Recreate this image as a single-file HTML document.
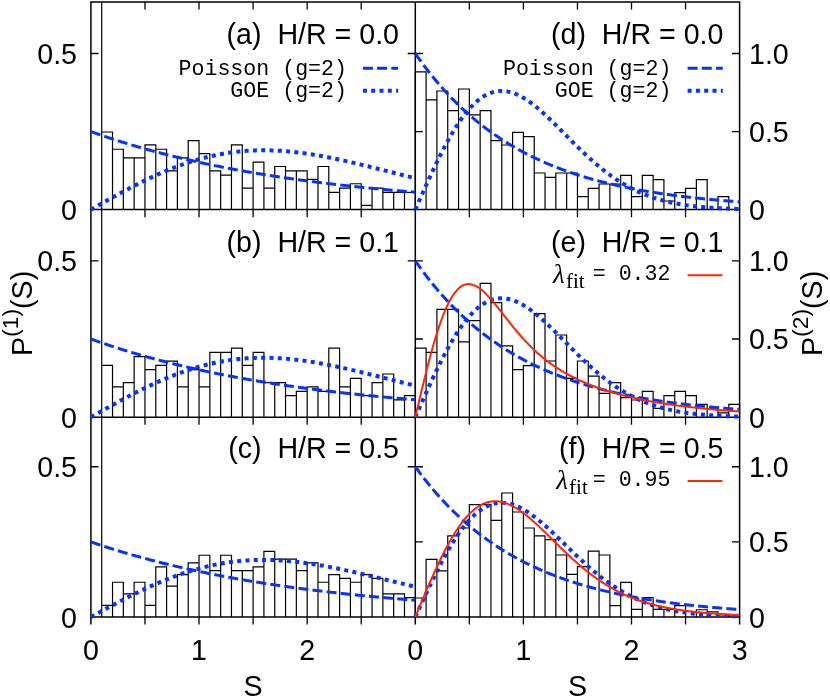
<!DOCTYPE html>
<html><head><meta charset="utf-8"><title>P(S)</title>
<style>html,body{margin:0;padding:0;background:#fff}svg{display:block;will-change:transform}</style></head>
<body>
<svg width="830" height="700" viewBox="0 0 830 700">
<rect width="830" height="700" fill="#fff"/>
<g stroke="#000" stroke-width="1.5" fill="none" stroke-linecap="butt">
<path d="M90.9 624.6 V1.9 H739.6 V624.6 M415.3 1.9 V624.6 M90.9 209.6 H739.6 M90.9 417.2 H739.6 M90.9 617.0 H739.6"/>
</g>
<g stroke="#000" stroke-width="1.3" fill="none">
<path d="M144.97 1.9 v7.6 M144.97 209.6 v7.6 M144.97 417.2 v7.6 M144.97 617.0 v7.6 M199.03 1.9 v7.6 M199.03 209.6 v7.6 M199.03 417.2 v7.6 M199.03 617.0 v7.6 M253.10 1.9 v7.6 M253.10 209.6 v7.6 M253.10 417.2 v7.6 M253.10 617.0 v7.6 M307.17 1.9 v7.6 M307.17 209.6 v7.6 M307.17 417.2 v7.6 M307.17 617.0 v7.6 M361.23 1.9 v7.6 M361.23 209.6 v7.6 M361.23 417.2 v7.6 M361.23 617.0 v7.6 M469.35 1.9 v7.6 M469.35 209.6 v7.6 M469.35 417.2 v7.6 M469.35 617.0 v7.6 M523.40 1.9 v7.6 M523.40 209.6 v7.6 M523.40 417.2 v7.6 M523.40 617.0 v7.6 M577.45 1.9 v7.6 M577.45 209.6 v7.6 M577.45 417.2 v7.6 M577.45 617.0 v7.6 M631.50 1.9 v7.6 M631.50 209.6 v7.6 M631.50 417.2 v7.6 M631.50 617.0 v7.6 M685.55 1.9 v7.6 M685.55 209.6 v7.6 M685.55 417.2 v7.6 M685.55 617.0 v7.6 M90.9 53.50 h7.6 M415.3 53.50 h-7.6 M415.3 53.50 h7.6 M415.3 131.55 h7.6 M739.6 53.50 h-7.6 M739.6 131.55 h-7.6 M90.9 260.80 h7.6 M415.3 260.80 h-7.6 M415.3 260.80 h7.6 M415.3 339.00 h7.6 M739.6 260.80 h-7.6 M739.6 339.00 h-7.6 M90.9 466.75 h7.6 M415.3 466.75 h-7.6 M415.3 466.75 h7.6 M415.3 541.88 h7.6 M739.6 466.75 h-7.6 M739.6 541.88 h-7.6"/>
</g>
<g stroke="#000" stroke-width="1.2" fill="none" stroke-linejoin="miter">
<path d="M101.71 209.6 V1.9 M101.71 209.6 v-77.58 h10.81 v77.58 M112.53 209.6 v-60.34 h10.81 v60.34 M123.34 209.6 v-51.72 h10.81 v51.72 M134.15 209.6 v-51.72 h10.81 v51.72 M144.97 209.6 v-64.65 h10.81 v64.65 M155.78 209.6 v-60.34 h10.81 v60.34 M166.59 209.6 v-38.79 h10.81 v38.79 M177.41 209.6 v-51.72 h10.81 v51.72 M188.22 209.6 v-68.96 h10.81 v68.96 M199.03 209.6 v-56.03 h10.81 v56.03 M209.85 209.6 v-38.79 h10.81 v38.79 M220.66 209.6 v-34.48 h10.81 v34.48 M231.47 209.6 v-64.65 h10.81 v64.65 M242.29 209.6 v-21.55 h10.81 v21.55 M253.10 209.6 v-47.41 h10.81 v47.41 M263.91 209.6 v-21.55 h10.81 v21.55 M274.73 209.6 v-43.10 h10.81 v43.10 M285.54 209.6 v-38.79 h10.81 v38.79 M296.35 209.6 v-38.79 h10.81 v38.79 M307.17 209.6 v-30.17 h10.81 v30.17 M317.98 209.6 v-43.10 h10.81 v43.10 M328.79 209.6 v-17.24 h10.81 v17.24 M339.61 209.6 v-21.55 h10.81 v21.55 M350.42 209.6 v-25.86 h10.81 v25.86 M361.23 209.6 v-4.31 h10.81 v4.31 M372.05 209.6 v-21.55 h10.81 v21.55 M382.86 209.6 v-17.24 h10.81 v17.24 M393.67 209.6 v-17.24 h10.81 v17.24 M404.49 209.6 v-17.24 h10.81 v17.24 M415.30 209.6 v-137.70 h10.81 v137.70 M426.11 209.6 v-109.80 h10.81 v109.80 M436.92 209.6 v-118.60 h10.81 v118.60 M447.73 209.6 v-99.00 h10.81 v99.00 M458.54 209.6 v-120.60 h10.81 v120.60 M469.35 209.6 v-94.80 h10.81 v94.80 M480.16 209.6 v-99.00 h10.81 v99.00 M490.97 209.6 v-69.00 h10.81 v69.00 M501.78 209.6 v-64.60 h10.81 v64.60 M512.59 209.6 v-77.20 h10.81 v77.20 M523.40 209.6 v-73.00 h10.81 v73.00 M534.21 209.6 v-36.60 h10.81 v36.60 M545.02 209.6 v-32.20 h10.81 v32.20 M555.83 209.6 v-36.60 h10.81 v36.60 M566.64 209.6 v-36.60 h10.81 v36.60 M577.45 209.6 v-13.00 h10.81 v13.00 M588.26 209.6 v-21.20 h10.81 v21.20 M599.07 209.6 v-25.60 h10.81 v25.60 M609.88 209.6 v-25.60 h10.81 v25.60 M620.69 209.6 v-34.20 h10.81 v34.20 M631.50 209.6 v-13.00 h10.81 v13.00 M642.31 209.6 v-34.20 h10.81 v34.20 M653.12 209.6 v-30.00 h10.81 v30.00 M663.93 209.6 v-8.60 h10.81 v8.60 M674.74 209.6 v-17.00 h10.81 v17.00 M685.55 209.6 v-21.20 h10.81 v21.20 M696.36 209.6 v-30.00 h10.81 v30.00 M717.98 209.6 v-13.00 h10.81 v13.00 M101.71 417.2 V209.6 M101.71 417.2 v-51.84 h10.81 v51.84 M112.53 417.2 v-30.24 h10.81 v30.24 M123.34 417.2 v-34.56 h10.81 v34.56 M134.15 417.2 v-60.48 h10.81 v60.48 M144.97 417.2 v-47.52 h10.81 v47.52 M155.78 417.2 v-51.84 h10.81 v51.84 M166.59 417.2 v-56.16 h10.81 v56.16 M177.41 417.2 v-30.24 h10.81 v30.24 M188.22 417.2 v-47.52 h10.81 v47.52 M199.03 417.2 v-30.24 h10.81 v30.24 M209.85 417.2 v-64.80 h10.81 v64.80 M220.66 417.2 v-64.80 h10.81 v64.80 M231.47 417.2 v-69.12 h10.81 v69.12 M242.29 417.2 v-51.84 h10.81 v51.84 M253.10 417.2 v-64.80 h10.81 v64.80 M263.91 417.2 v-34.56 h10.81 v34.56 M274.73 417.2 v-34.56 h10.81 v34.56 M285.54 417.2 v-21.60 h10.81 v21.60 M296.35 417.2 v-25.92 h10.81 v25.92 M307.17 417.2 v-30.24 h10.81 v30.24 M317.98 417.2 v-25.92 h10.81 v25.92 M328.79 417.2 v-69.12 h10.81 v69.12 M339.61 417.2 v-30.24 h10.81 v30.24 M350.42 417.2 v-38.88 h10.81 v38.88 M361.23 417.2 v-21.60 h10.81 v21.60 M372.05 417.2 v-34.56 h10.81 v34.56 M382.86 417.2 v-43.20 h10.81 v43.20 M393.67 417.2 v-17.28 h10.81 v17.28 M404.49 417.2 v-21.60 h10.81 v21.60 M415.30 417.2 v-69.00 h10.81 v69.00 M426.11 417.2 v-64.80 h10.81 v64.80 M436.92 417.2 v-107.80 h10.81 v107.80 M447.73 417.2 v-107.80 h10.81 v107.80 M458.54 417.2 v-75.40 h10.81 v75.40 M469.35 417.2 v-96.60 h10.81 v96.60 M480.16 417.2 v-133.80 h10.81 v133.80 M490.97 417.2 v-114.60 h10.81 v114.60 M501.78 417.2 v-71.40 h10.81 v71.40 M512.59 417.2 v-47.60 h10.81 v47.60 M523.40 417.2 v-51.60 h10.81 v51.60 M534.21 417.2 v-103.60 h10.81 v103.60 M545.02 417.2 v-56.20 h10.81 v56.20 M555.83 417.2 v-82.20 h10.81 v82.20 M566.64 417.2 v-38.80 h10.81 v38.80 M577.45 417.2 v-56.20 h10.81 v56.20 M588.26 417.2 v-41.00 h10.81 v41.00 M599.07 417.2 v-23.80 h10.81 v23.80 M609.88 417.2 v-34.60 h10.81 v34.60 M620.69 417.2 v-19.60 h10.81 v19.60 M631.50 417.2 v-17.20 h10.81 v17.20 M642.31 417.2 v-25.80 h10.81 v25.80 M653.12 417.2 v-8.80 h10.81 v8.80 M663.93 417.2 v-21.60 h10.81 v21.60 M674.74 417.2 v-25.80 h10.81 v25.80 M685.55 417.2 v-21.60 h10.81 v21.60 M696.36 417.2 v-12.80 h10.81 v12.80 M707.17 417.2 v-8.60 h10.81 v8.60 M717.98 417.2 v-4.30 h10.81 v4.30 M728.79 417.2 v-12.80 h10.81 v12.80 M101.71 617.0 V417.2 M101.71 617.0 v-11.58 h10.81 v11.58 M112.53 617.0 v-34.74 h10.81 v34.74 M123.34 617.0 v-23.16 h10.81 v23.16 M134.15 617.0 v-34.74 h10.81 v34.74 M144.97 617.0 v-11.58 h10.81 v11.58 M155.78 617.0 v-50.18 h10.81 v50.18 M166.59 617.0 v-30.88 h10.81 v30.88 M177.41 617.0 v-42.46 h10.81 v42.46 M188.22 617.0 v-54.04 h10.81 v54.04 M199.03 617.0 v-61.76 h10.81 v61.76 M209.85 617.0 v-46.32 h10.81 v46.32 M220.66 617.0 v-61.76 h10.81 v61.76 M231.47 617.0 v-46.32 h10.81 v46.32 M242.29 617.0 v-46.32 h10.81 v46.32 M253.10 617.0 v-50.18 h10.81 v50.18 M263.91 617.0 v-65.62 h10.81 v65.62 M274.73 617.0 v-57.90 h10.81 v57.90 M285.54 617.0 v-57.90 h10.81 v57.90 M296.35 617.0 v-46.32 h10.81 v46.32 M307.17 617.0 v-54.04 h10.81 v54.04 M317.98 617.0 v-34.74 h10.81 v34.74 M328.79 617.0 v-42.46 h10.81 v42.46 M339.61 617.0 v-38.60 h10.81 v38.60 M350.42 617.0 v-34.74 h10.81 v34.74 M361.23 617.0 v-42.46 h10.81 v42.46 M372.05 617.0 v-38.60 h10.81 v38.60 M382.86 617.0 v-23.16 h10.81 v23.16 M393.67 617.0 v-23.16 h10.81 v23.16 M404.49 617.0 v-19.30 h10.81 v19.30 M415.30 617.0 v-19.00 h10.81 v19.00 M426.11 617.0 v-57.60 h10.81 v57.60 M436.92 617.0 v-46.20 h10.81 v46.20 M447.73 617.0 v-81.20 h10.81 v81.20 M458.54 617.0 v-89.00 h10.81 v89.00 M469.35 617.0 v-112.40 h10.81 v112.40 M480.16 617.0 v-112.40 h10.81 v112.40 M490.97 617.0 v-96.60 h10.81 v96.60 M501.78 617.0 v-124.00 h10.81 v124.00 M512.59 617.0 v-105.00 h10.81 v105.00 M523.40 617.0 v-89.00 h10.81 v89.00 M534.21 617.0 v-81.20 h10.81 v81.20 M545.02 617.0 v-77.40 h10.81 v77.40 M555.83 617.0 v-62.00 h10.81 v62.00 M566.64 617.0 v-42.60 h10.81 v42.60 M577.45 617.0 v-50.40 h10.81 v50.40 M588.26 617.0 v-65.80 h10.81 v65.80 M599.07 617.0 v-62.00 h10.81 v62.00 M609.88 617.0 v-11.40 h10.81 v11.40 M620.69 617.0 v-34.60 h10.81 v34.60 M631.50 617.0 v-7.60 h10.81 v7.60 M642.31 617.0 v-19.40 h10.81 v19.40 M653.12 617.0 v-7.60 h10.81 v7.60 M663.93 617.0 v-7.60 h10.81 v7.60 M674.74 617.0 v-11.40 h10.81 v11.40 M696.36 617.0 v-7.25 h10.81 v7.25 M707.17 617.0 v-5.20 h10.81 v5.20 M717.98 617.0 v-2.00 h10.81 v2.00 M728.79 617.0 v-2.00 h10.81 v2.00"/>
</g>
<path d="M90.90 131.55 L91.98 131.94 L93.06 132.33 L94.14 132.71 L95.23 133.10 L96.31 133.48 L97.39 133.86 L98.47 134.23 L99.55 134.61 L100.63 134.98 L101.71 135.36 L102.79 135.73 L103.88 136.10 L104.96 136.46 L106.04 136.83 L107.12 137.19 L108.20 137.55 L109.28 137.91 L110.36 138.27 L111.45 138.62 L112.53 138.98 L113.61 139.33 L114.69 139.68 L115.77 140.03 L116.85 140.38 L117.93 140.72 L119.01 141.06 L120.10 141.41 L121.18 141.75 L122.26 142.09 L123.34 142.42 L124.42 142.76 L125.50 143.09 L126.58 143.42 L127.67 143.75 L128.75 144.08 L129.83 144.41 L130.91 144.73 L131.99 145.06 L133.07 145.38 L134.15 145.70 L135.23 146.02 L136.32 146.33 L137.40 146.65 L138.48 146.96 L139.56 147.28 L140.64 147.59 L141.72 147.90 L142.80 148.20 L143.89 148.51 L144.97 148.81 L146.05 149.12 L147.13 149.42 L148.21 149.72 L149.29 150.02 L150.37 150.32 L151.45 150.61 L152.54 150.91 L153.62 151.20 L154.70 151.49 L155.78 151.78 L156.86 152.07 L157.94 152.35 L159.02 152.64 L160.11 152.92 L161.19 153.21 L162.27 153.49 L163.35 153.77 L164.43 154.05 L165.51 154.32 L166.59 154.60 L167.67 154.87 L168.76 155.15 L169.84 155.42 L170.92 155.69 L172.00 155.96 L173.08 156.22 L174.16 156.49 L175.24 156.76 L176.33 157.02 L177.41 157.28 L178.49 157.54 L179.57 157.80 L180.65 158.06 L181.73 158.32 L182.81 158.57 L183.89 158.83 L184.98 159.08 L186.06 159.33 L187.14 159.58 L188.22 159.83 L189.30 160.08 L190.38 160.33 L191.46 160.57 L192.55 160.82 L193.63 161.06 L194.71 161.30 L195.79 161.54 L196.87 161.78 L197.95 162.02 L199.03 162.26 L200.11 162.50 L201.20 162.73 L202.28 162.97 L203.36 163.20 L204.44 163.43 L205.52 163.66 L206.60 163.89 L207.68 164.12 L208.77 164.34 L209.85 164.57 L210.93 164.79 L212.01 165.02 L213.09 165.24 L214.17 165.46 L215.25 165.68 L216.33 165.90 L217.42 166.12 L218.50 166.33 L219.58 166.55 L220.66 166.77 L221.74 166.98 L222.82 167.19 L223.90 167.40 L224.99 167.61 L226.07 167.82 L227.15 168.03 L228.23 168.24 L229.31 168.44 L230.39 168.65 L231.47 168.85 L232.55 169.06 L233.64 169.26 L234.72 169.46 L235.80 169.66 L236.88 169.86 L237.96 170.06 L239.04 170.26 L240.12 170.45 L241.21 170.65 L242.29 170.84 L243.37 171.03 L244.45 171.23 L245.53 171.42 L246.61 171.61 L247.69 171.80 L248.77 171.99 L249.86 172.17 L250.94 172.36 L252.02 172.55 L253.10 172.73 L254.18 172.92 L255.26 173.10 L256.34 173.28 L257.43 173.46 L258.51 173.64 L259.59 173.82 L260.67 174.00 L261.75 174.18 L262.83 174.35 L263.91 174.53 L264.99 174.70 L266.08 174.88 L267.16 175.05 L268.24 175.22 L269.32 175.40 L270.40 175.57 L271.48 175.74 L272.56 175.90 L273.65 176.07 L274.73 176.24 L275.81 176.41 L276.89 176.57 L277.97 176.74 L279.05 176.90 L280.13 177.06 L281.21 177.23 L282.30 177.39 L283.38 177.55 L284.46 177.71 L285.54 177.87 L286.62 178.03 L287.70 178.18 L288.78 178.34 L289.87 178.50 L290.95 178.65 L292.03 178.81 L293.11 178.96 L294.19 179.11 L295.27 179.26 L296.35 179.41 L297.43 179.57 L298.52 179.72 L299.60 179.86 L300.68 180.01 L301.76 180.16 L302.84 180.31 L303.92 180.45 L305.00 180.60 L306.09 180.74 L307.17 180.89 L308.25 181.03 L309.33 181.17 L310.41 181.31 L311.49 181.46 L312.57 181.60 L313.65 181.74 L314.74 181.87 L315.82 182.01 L316.90 182.15 L317.98 182.29 L319.06 182.42 L320.14 182.56 L321.22 182.69 L322.31 182.83 L323.39 182.96 L324.47 183.09 L325.55 183.23 L326.63 183.36 L327.71 183.49 L328.79 183.62 L329.87 183.75 L330.96 183.88 L332.04 184.01 L333.12 184.13 L334.20 184.26 L335.28 184.39 L336.36 184.51 L337.44 184.64 L338.53 184.76 L339.61 184.89 L340.69 185.01 L341.77 185.13 L342.85 185.25 L343.93 185.38 L345.01 185.50 L346.09 185.62 L347.18 185.74 L348.26 185.86 L349.34 185.97 L350.42 186.09 L351.50 186.21 L352.58 186.33 L353.66 186.44 L354.75 186.56 L355.83 186.67 L356.91 186.79 L357.99 186.90 L359.07 187.01 L360.15 187.13 L361.23 187.24 L362.31 187.35 L363.40 187.46 L364.48 187.57 L365.56 187.68 L366.64 187.79 L367.72 187.90 L368.80 188.01 L369.88 188.12 L370.97 188.22 L372.05 188.33 L373.13 188.43 L374.21 188.54 L375.29 188.65 L376.37 188.75 L377.45 188.85 L378.53 188.96 L379.62 189.06 L380.70 189.16 L381.78 189.26 L382.86 189.37 L383.94 189.47 L385.02 189.57 L386.10 189.67 L387.19 189.77 L388.27 189.87 L389.35 189.96 L390.43 190.06 L391.51 190.16 L392.59 190.26 L393.67 190.35 L394.75 190.45 L395.84 190.54 L396.92 190.64 L398.00 190.73 L399.08 190.83 L400.16 190.92 L401.24 191.02 L402.32 191.11 L403.41 191.20 L404.49 191.29 L405.57 191.38 L406.65 191.47 L407.73 191.56 L408.81 191.65 L409.89 191.74 L410.97 191.83 L412.06 191.92 L413.14 192.01 L414.22 192.10 L415.30 192.18" fill="none" stroke="#0433ff" stroke-width="3" stroke-dasharray="10 4.2"/>
<path d="M90.90 209.60 L91.98 208.99 L93.06 208.37 L94.14 207.76 L95.23 207.15 L96.31 206.54 L97.39 205.92 L98.47 205.31 L99.55 204.70 L100.63 204.09 L101.71 203.48 L102.79 202.87 L103.88 202.26 L104.96 201.66 L106.04 201.05 L107.12 200.45 L108.20 199.84 L109.28 199.24 L110.36 198.64 L111.45 198.04 L112.53 197.44 L113.61 196.84 L114.69 196.24 L115.77 195.65 L116.85 195.05 L117.93 194.46 L119.01 193.87 L120.10 193.28 L121.18 192.70 L122.26 192.11 L123.34 191.53 L124.42 190.95 L125.50 190.37 L126.58 189.80 L127.67 189.23 L128.75 188.65 L129.83 188.09 L130.91 187.52 L131.99 186.96 L133.07 186.40 L134.15 185.84 L135.23 185.28 L136.32 184.73 L137.40 184.18 L138.48 183.63 L139.56 183.09 L140.64 182.55 L141.72 182.01 L142.80 181.48 L143.89 180.95 L144.97 180.42 L146.05 179.89 L147.13 179.37 L148.21 178.85 L149.29 178.34 L150.37 177.83 L151.45 177.32 L152.54 176.82 L153.62 176.32 L154.70 175.82 L155.78 175.33 L156.86 174.84 L157.94 174.36 L159.02 173.88 L160.11 173.40 L161.19 172.93 L162.27 172.46 L163.35 171.99 L164.43 171.53 L165.51 171.08 L166.59 170.63 L167.67 170.18 L168.76 169.74 L169.84 169.30 L170.92 168.86 L172.00 168.43 L173.08 168.01 L174.16 167.59 L175.24 167.17 L176.33 166.76 L177.41 166.35 L178.49 165.95 L179.57 165.55 L180.65 165.16 L181.73 164.77 L182.81 164.39 L183.89 164.01 L184.98 163.63 L186.06 163.26 L187.14 162.90 L188.22 162.54 L189.30 162.19 L190.38 161.84 L191.46 161.49 L192.55 161.16 L193.63 160.82 L194.71 160.49 L195.79 160.17 L196.87 159.85 L197.95 159.54 L199.03 159.23 L200.11 158.92 L201.20 158.63 L202.28 158.33 L203.36 158.05 L204.44 157.76 L205.52 157.49 L206.60 157.21 L207.68 156.95 L208.77 156.69 L209.85 156.43 L210.93 156.18 L212.01 155.93 L213.09 155.69 L214.17 155.46 L215.25 155.23 L216.33 155.00 L217.42 154.78 L218.50 154.57 L219.58 154.36 L220.66 154.16 L221.74 153.96 L222.82 153.77 L223.90 153.58 L224.99 153.40 L226.07 153.22 L227.15 153.05 L228.23 152.88 L229.31 152.72 L230.39 152.56 L231.47 152.41 L232.55 152.27 L233.64 152.13 L234.72 151.99 L235.80 151.86 L236.88 151.74 L237.96 151.62 L239.04 151.51 L240.12 151.40 L241.21 151.29 L242.29 151.19 L243.37 151.10 L244.45 151.01 L245.53 150.93 L246.61 150.85 L247.69 150.78 L248.77 150.71 L249.86 150.65 L250.94 150.59 L252.02 150.53 L253.10 150.49 L254.18 150.44 L255.26 150.40 L256.34 150.37 L257.43 150.34 L258.51 150.32 L259.59 150.30 L260.67 150.28 L261.75 150.27 L262.83 150.27 L263.91 150.27 L264.99 150.27 L266.08 150.28 L267.16 150.30 L268.24 150.31 L269.32 150.34 L270.40 150.36 L271.48 150.39 L272.56 150.43 L273.65 150.47 L274.73 150.52 L275.81 150.56 L276.89 150.62 L277.97 150.68 L279.05 150.74 L280.13 150.80 L281.21 150.87 L282.30 150.95 L283.38 151.03 L284.46 151.11 L285.54 151.20 L286.62 151.29 L287.70 151.38 L288.78 151.48 L289.87 151.58 L290.95 151.69 L292.03 151.80 L293.11 151.91 L294.19 152.03 L295.27 152.15 L296.35 152.27 L297.43 152.40 L298.52 152.53 L299.60 152.66 L300.68 152.80 L301.76 152.94 L302.84 153.09 L303.92 153.24 L305.00 153.39 L306.09 153.54 L307.17 153.70 L308.25 153.86 L309.33 154.03 L310.41 154.19 L311.49 154.36 L312.57 154.54 L313.65 154.71 L314.74 154.89 L315.82 155.07 L316.90 155.26 L317.98 155.45 L319.06 155.64 L320.14 155.83 L321.22 156.02 L322.31 156.22 L323.39 156.42 L324.47 156.63 L325.55 156.83 L326.63 157.04 L327.71 157.25 L328.79 157.46 L329.87 157.68 L330.96 157.89 L332.04 158.11 L333.12 158.33 L334.20 158.56 L335.28 158.78 L336.36 159.01 L337.44 159.24 L338.53 159.47 L339.61 159.70 L340.69 159.94 L341.77 160.17 L342.85 160.41 L343.93 160.65 L345.01 160.89 L346.09 161.13 L347.18 161.38 L348.26 161.62 L349.34 161.87 L350.42 162.12 L351.50 162.37 L352.58 162.62 L353.66 162.88 L354.75 163.13 L355.83 163.39 L356.91 163.64 L357.99 163.90 L359.07 164.16 L360.15 164.42 L361.23 164.68 L362.31 164.94 L363.40 165.20 L364.48 165.47 L365.56 165.73 L366.64 166.00 L367.72 166.26 L368.80 166.53 L369.88 166.80 L370.97 167.07 L372.05 167.33 L373.13 167.60 L374.21 167.87 L375.29 168.14 L376.37 168.41 L377.45 168.69 L378.53 168.96 L379.62 169.23 L380.70 169.50 L381.78 169.77 L382.86 170.05 L383.94 170.32 L385.02 170.59 L386.10 170.87 L387.19 171.14 L388.27 171.41 L389.35 171.69 L390.43 171.96 L391.51 172.23 L392.59 172.51 L393.67 172.78 L394.75 173.05 L395.84 173.33 L396.92 173.60 L398.00 173.87 L399.08 174.15 L400.16 174.42 L401.24 174.69 L402.32 174.96 L403.41 175.23 L404.49 175.50 L405.57 175.77 L406.65 176.04 L407.73 176.31 L408.81 176.58 L409.89 176.85 L410.97 177.12 L412.06 177.39 L413.14 177.65 L414.22 177.92 L415.30 178.19" fill="none" stroke="#0433ff" stroke-width="4" stroke-dasharray="4 4.3"/>
<path d="M415.30 53.50 L416.38 55.05 L417.46 56.59 L418.54 58.11 L419.62 59.62 L420.71 61.11 L421.79 62.59 L422.87 64.05 L423.95 65.50 L425.03 66.94 L426.11 68.35 L427.19 69.76 L428.27 71.15 L429.35 72.53 L430.43 73.89 L431.51 75.24 L432.60 76.58 L433.68 77.90 L434.76 79.21 L435.84 80.51 L436.92 81.80 L438.00 83.07 L439.08 84.33 L440.16 85.57 L441.24 86.81 L442.32 88.03 L443.41 89.24 L444.49 90.44 L445.57 91.62 L446.65 92.80 L447.73 93.96 L448.81 95.11 L449.89 96.25 L450.97 97.38 L452.05 98.49 L453.13 99.60 L454.22 100.69 L455.30 101.78 L456.38 102.85 L457.46 103.91 L458.54 104.96 L459.62 106.00 L460.70 107.03 L461.78 108.06 L462.86 109.07 L463.94 110.07 L465.03 111.06 L466.11 112.04 L467.19 113.01 L468.27 113.97 L469.35 114.92 L470.43 115.86 L471.51 116.80 L472.59 117.72 L473.67 118.63 L474.75 119.54 L475.84 120.43 L476.92 121.32 L478.00 122.20 L479.08 123.07 L480.16 123.93 L481.24 124.78 L482.32 125.63 L483.40 126.46 L484.48 127.29 L485.57 128.11 L486.65 128.92 L487.73 129.72 L488.81 130.52 L489.89 131.30 L490.97 132.08 L492.05 132.85 L493.13 133.62 L494.21 134.37 L495.29 135.12 L496.38 135.86 L497.46 136.60 L498.54 137.32 L499.62 138.04 L500.70 138.75 L501.78 139.46 L502.86 140.16 L503.94 140.85 L505.02 141.53 L506.10 142.21 L507.19 142.88 L508.27 143.54 L509.35 144.20 L510.43 144.85 L511.51 145.50 L512.59 146.13 L513.67 146.77 L514.75 147.39 L515.83 148.01 L516.91 148.62 L518.00 149.23 L519.08 149.83 L520.16 150.43 L521.24 151.01 L522.32 151.60 L523.40 152.17 L524.48 152.75 L525.56 153.31 L526.64 153.87 L527.72 154.43 L528.81 154.97 L529.89 155.52 L530.97 156.06 L532.05 156.59 L533.13 157.12 L534.21 157.64 L535.29 158.16 L536.37 158.67 L537.45 159.17 L538.53 159.68 L539.62 160.17 L540.70 160.66 L541.78 161.15 L542.86 161.63 L543.94 162.11 L545.02 162.58 L546.10 163.05 L547.18 163.51 L548.26 163.97 L549.34 164.43 L550.42 164.88 L551.51 165.32 L552.59 165.76 L553.67 166.20 L554.75 166.63 L555.83 167.06 L556.91 167.48 L557.99 167.90 L559.07 168.32 L560.15 168.73 L561.24 169.13 L562.32 169.54 L563.40 169.93 L564.48 170.33 L565.56 170.72 L566.64 171.11 L567.72 171.49 L568.80 171.87 L569.88 172.24 L570.96 172.62 L572.05 172.98 L573.13 173.35 L574.21 173.71 L575.29 174.07 L576.37 174.42 L577.45 174.77 L578.53 175.12 L579.61 175.46 L580.69 175.80 L581.77 176.14 L582.86 176.47 L583.94 176.80 L585.02 177.12 L586.10 177.45 L587.18 177.77 L588.26 178.08 L589.34 178.40 L590.42 178.71 L591.50 179.02 L592.58 179.32 L593.67 179.62 L594.75 179.92 L595.83 180.21 L596.91 180.51 L597.99 180.80 L599.07 181.08 L600.15 181.37 L601.23 181.65 L602.31 181.93 L603.39 182.20 L604.48 182.47 L605.56 182.74 L606.64 183.01 L607.72 183.28 L608.80 183.54 L609.88 183.80 L610.96 184.05 L612.04 184.31 L613.12 184.56 L614.20 184.81 L615.29 185.06 L616.37 185.30 L617.45 185.54 L618.53 185.78 L619.61 186.02 L620.69 186.25 L621.77 186.48 L622.85 186.71 L623.93 186.94 L625.01 187.17 L626.10 187.39 L627.18 187.61 L628.26 187.83 L629.34 188.05 L630.42 188.26 L631.50 188.47 L632.58 188.68 L633.66 188.89 L634.74 189.10 L635.82 189.30 L636.90 189.50 L637.99 189.70 L639.07 189.90 L640.15 190.10 L641.23 190.29 L642.31 190.48 L643.39 190.67 L644.47 190.86 L645.55 191.05 L646.63 191.23 L647.72 191.42 L648.80 191.60 L649.88 191.78 L650.96 191.95 L652.04 192.13 L653.12 192.30 L654.20 192.48 L655.28 192.65 L656.36 192.81 L657.44 192.98 L658.53 193.15 L659.61 193.31 L660.69 193.47 L661.77 193.63 L662.85 193.79 L663.93 193.95 L665.01 194.11 L666.09 194.26 L667.17 194.41 L668.25 194.56 L669.34 194.71 L670.42 194.86 L671.50 195.01 L672.58 195.15 L673.66 195.30 L674.74 195.44 L675.82 195.58 L676.90 195.72 L677.98 195.86 L679.06 195.99 L680.14 196.13 L681.23 196.26 L682.31 196.40 L683.39 196.53 L684.47 196.66 L685.55 196.79 L686.63 196.91 L687.71 197.04 L688.79 197.17 L689.87 197.29 L690.96 197.41 L692.04 197.53 L693.12 197.65 L694.20 197.77 L695.28 197.89 L696.36 198.01 L697.44 198.12 L698.52 198.24 L699.60 198.35 L700.68 198.46 L701.77 198.57 L702.85 198.68 L703.93 198.79 L705.01 198.90 L706.09 199.00 L707.17 199.11 L708.25 199.21 L709.33 199.32 L710.41 199.42 L711.49 199.52 L712.58 199.62 L713.66 199.72 L714.74 199.82 L715.82 199.92 L716.90 200.01 L717.98 200.11 L719.06 200.20 L720.14 200.30 L721.22 200.39 L722.30 200.48 L723.38 200.57 L724.47 200.66 L725.55 200.75 L726.63 200.84 L727.71 200.92 L728.79 201.01 L729.87 201.10 L730.95 201.18 L732.03 201.26 L733.11 201.35 L734.20 201.43 L735.28 201.51 L736.36 201.59 L737.44 201.67 L738.52 201.75 L739.60 201.83" fill="none" stroke="#0433ff" stroke-width="3" stroke-dasharray="10 4.2"/>
<path d="M415.30 209.60 L416.38 207.15 L417.46 204.70 L418.54 202.25 L419.62 199.80 L420.71 197.36 L421.79 194.93 L422.87 192.50 L423.95 190.08 L425.03 187.67 L426.11 185.27 L427.19 182.88 L428.27 180.51 L429.35 178.14 L430.43 175.80 L431.51 173.46 L432.60 171.15 L433.68 168.85 L434.76 166.57 L435.84 164.31 L436.92 162.08 L438.00 159.86 L439.08 157.67 L440.16 155.50 L441.24 153.35 L442.32 151.24 L443.41 149.14 L444.49 147.08 L445.57 145.04 L446.65 143.04 L447.73 141.06 L448.81 139.11 L449.89 137.20 L450.97 135.32 L452.05 133.47 L453.13 131.65 L454.22 129.87 L455.30 128.12 L456.38 126.41 L457.46 124.74 L458.54 123.10 L459.62 121.50 L460.70 119.94 L461.78 118.42 L462.86 116.93 L463.94 115.48 L465.03 114.08 L466.11 112.71 L467.19 111.39 L468.27 110.10 L469.35 108.86 L470.43 107.65 L471.51 106.49 L472.59 105.37 L473.67 104.29 L474.75 103.26 L475.84 102.26 L476.92 101.31 L478.00 100.40 L479.08 99.54 L480.16 98.71 L481.24 97.93 L482.32 97.19 L483.40 96.49 L484.48 95.84 L485.57 95.23 L486.65 94.66 L487.73 94.13 L488.81 93.64 L489.89 93.19 L490.97 92.79 L492.05 92.42 L493.13 92.10 L494.21 91.82 L495.29 91.58 L496.38 91.37 L497.46 91.21 L498.54 91.08 L499.62 91.00 L500.70 90.95 L501.78 90.94 L502.86 90.96 L503.94 91.03 L505.02 91.13 L506.10 91.26 L507.19 91.43 L508.27 91.64 L509.35 91.88 L510.43 92.15 L511.51 92.45 L512.59 92.79 L513.67 93.16 L514.75 93.56 L515.83 93.99 L516.91 94.45 L518.00 94.94 L519.08 95.46 L520.16 96.01 L521.24 96.58 L522.32 97.18 L523.40 97.80 L524.48 98.45 L525.56 99.13 L526.64 99.83 L527.72 100.55 L528.81 101.29 L529.89 102.06 L530.97 102.85 L532.05 103.65 L533.13 104.48 L534.21 105.32 L535.29 106.18 L536.37 107.06 L537.45 107.96 L538.53 108.87 L539.62 109.80 L540.70 110.74 L541.78 111.70 L542.86 112.67 L543.94 113.65 L545.02 114.64 L546.10 115.65 L547.18 116.66 L548.26 117.68 L549.34 118.72 L550.42 119.76 L551.51 120.81 L552.59 121.86 L553.67 122.93 L554.75 124.00 L555.83 125.07 L556.91 126.15 L557.99 127.23 L559.07 128.31 L560.15 129.40 L561.24 130.49 L562.32 131.59 L563.40 132.68 L564.48 133.77 L565.56 134.87 L566.64 135.96 L567.72 137.05 L568.80 138.15 L569.88 139.24 L570.96 140.32 L572.05 141.41 L573.13 142.49 L574.21 143.57 L575.29 144.64 L576.37 145.71 L577.45 146.77 L578.53 147.83 L579.61 148.88 L580.69 149.93 L581.77 150.97 L582.86 152.01 L583.94 153.03 L585.02 154.05 L586.10 155.07 L587.18 156.07 L588.26 157.07 L589.34 158.05 L590.42 159.03 L591.50 160.00 L592.58 160.96 L593.67 161.92 L594.75 162.86 L595.83 163.79 L596.91 164.71 L597.99 165.62 L599.07 166.53 L600.15 167.42 L601.23 168.30 L602.31 169.17 L603.39 170.03 L604.48 170.88 L605.56 171.72 L606.64 172.54 L607.72 173.36 L608.80 174.16 L609.88 174.95 L610.96 175.74 L612.04 176.51 L613.12 177.26 L614.20 178.01 L615.29 178.75 L616.37 179.47 L617.45 180.18 L618.53 180.88 L619.61 181.57 L620.69 182.25 L621.77 182.92 L622.85 183.57 L623.93 184.22 L625.01 184.85 L626.10 185.47 L627.18 186.08 L628.26 186.68 L629.34 187.27 L630.42 187.84 L631.50 188.41 L632.58 188.96 L633.66 189.51 L634.74 190.04 L635.82 190.56 L636.90 191.07 L637.99 191.57 L639.07 192.06 L640.15 192.54 L641.23 193.01 L642.31 193.47 L643.39 193.92 L644.47 194.36 L645.55 194.80 L646.63 195.22 L647.72 195.63 L648.80 196.03 L649.88 196.42 L650.96 196.81 L652.04 197.18 L653.12 197.55 L654.20 197.91 L655.28 198.25 L656.36 198.59 L657.44 198.93 L658.53 199.25 L659.61 199.57 L660.69 199.87 L661.77 200.17 L662.85 200.47 L663.93 200.75 L665.01 201.03 L666.09 201.30 L667.17 201.56 L668.25 201.82 L669.34 202.07 L670.42 202.31 L671.50 202.55 L672.58 202.78 L673.66 203.00 L674.74 203.22 L675.82 203.43 L676.90 203.63 L677.98 203.83 L679.06 204.03 L680.14 204.21 L681.23 204.40 L682.31 204.57 L683.39 204.75 L684.47 204.91 L685.55 205.07 L686.63 205.23 L687.71 205.38 L688.79 205.53 L689.87 205.68 L690.96 205.81 L692.04 205.95 L693.12 206.08 L694.20 206.21 L695.28 206.33 L696.36 206.45 L697.44 206.56 L698.52 206.67 L699.60 206.78 L700.68 206.88 L701.77 206.99 L702.85 207.08 L703.93 207.18 L705.01 207.27 L706.09 207.36 L707.17 207.44 L708.25 207.52 L709.33 207.60 L710.41 207.68 L711.49 207.75 L712.58 207.82 L713.66 207.89 L714.74 207.96 L715.82 208.02 L716.90 208.09 L717.98 208.15 L719.06 208.20 L720.14 208.26 L721.22 208.31 L722.30 208.36 L723.38 208.41 L724.47 208.46 L725.55 208.51 L726.63 208.55 L727.71 208.60 L728.79 208.64 L729.87 208.68 L730.95 208.72 L732.03 208.75 L733.11 208.79 L734.20 208.82 L735.28 208.85 L736.36 208.89 L737.44 208.92 L738.52 208.95 L739.60 208.97" fill="none" stroke="#0433ff" stroke-width="4" stroke-dasharray="4 4.3"/>
<path d="M90.90 339.00 L91.98 339.39 L93.06 339.78 L94.14 340.16 L95.23 340.55 L96.31 340.93 L97.39 341.31 L98.47 341.69 L99.55 342.07 L100.63 342.44 L101.71 342.81 L102.79 343.18 L103.88 343.55 L104.96 343.92 L106.04 344.29 L107.12 344.65 L108.20 345.01 L109.28 345.37 L110.36 345.73 L111.45 346.09 L112.53 346.44 L113.61 346.79 L114.69 347.15 L115.77 347.50 L116.85 347.84 L117.93 348.19 L119.01 348.53 L120.10 348.88 L121.18 349.22 L122.26 349.56 L123.34 349.89 L124.42 350.23 L125.50 350.56 L126.58 350.89 L127.67 351.23 L128.75 351.55 L129.83 351.88 L130.91 352.21 L131.99 352.53 L133.07 352.85 L134.15 353.18 L135.23 353.49 L136.32 353.81 L137.40 354.13 L138.48 354.44 L139.56 354.76 L140.64 355.07 L141.72 355.38 L142.80 355.69 L143.89 355.99 L144.97 356.30 L146.05 356.60 L147.13 356.90 L148.21 357.20 L149.29 357.50 L150.37 357.80 L151.45 358.10 L152.54 358.39 L153.62 358.69 L154.70 358.98 L155.78 359.27 L156.86 359.56 L157.94 359.84 L159.02 360.13 L160.11 360.42 L161.19 360.70 L162.27 360.98 L163.35 361.26 L164.43 361.54 L165.51 361.82 L166.59 362.09 L167.67 362.37 L168.76 362.64 L169.84 362.91 L170.92 363.18 L172.00 363.45 L173.08 363.72 L174.16 363.99 L175.24 364.25 L176.33 364.52 L177.41 364.78 L178.49 365.04 L179.57 365.30 L180.65 365.56 L181.73 365.82 L182.81 366.08 L183.89 366.33 L184.98 366.58 L186.06 366.84 L187.14 367.09 L188.22 367.34 L189.30 367.59 L190.38 367.83 L191.46 368.08 L192.55 368.32 L193.63 368.57 L194.71 368.81 L195.79 369.05 L196.87 369.29 L197.95 369.53 L199.03 369.77 L200.11 370.01 L201.20 370.24 L202.28 370.48 L203.36 370.71 L204.44 370.94 L205.52 371.17 L206.60 371.40 L207.68 371.63 L208.77 371.86 L209.85 372.08 L210.93 372.31 L212.01 372.53 L213.09 372.75 L214.17 372.98 L215.25 373.20 L216.33 373.42 L217.42 373.63 L218.50 373.85 L219.58 374.07 L220.66 374.28 L221.74 374.50 L222.82 374.71 L223.90 374.92 L224.99 375.13 L226.07 375.34 L227.15 375.55 L228.23 375.76 L229.31 375.97 L230.39 376.17 L231.47 376.38 L232.55 376.58 L233.64 376.78 L234.72 376.98 L235.80 377.18 L236.88 377.38 L237.96 377.58 L239.04 377.78 L240.12 377.98 L241.21 378.17 L242.29 378.37 L243.37 378.56 L244.45 378.75 L245.53 378.95 L246.61 379.14 L247.69 379.33 L248.77 379.51 L249.86 379.70 L250.94 379.89 L252.02 380.08 L253.10 380.26 L254.18 380.45 L255.26 380.63 L256.34 380.81 L257.43 380.99 L258.51 381.17 L259.59 381.35 L260.67 381.53 L261.75 381.71 L262.83 381.89 L263.91 382.06 L264.99 382.24 L266.08 382.41 L267.16 382.59 L268.24 382.76 L269.32 382.93 L270.40 383.10 L271.48 383.27 L272.56 383.44 L273.65 383.61 L274.73 383.78 L275.81 383.94 L276.89 384.11 L277.97 384.27 L279.05 384.44 L280.13 384.60 L281.21 384.76 L282.30 384.93 L283.38 385.09 L284.46 385.25 L285.54 385.41 L286.62 385.56 L287.70 385.72 L288.78 385.88 L289.87 386.04 L290.95 386.19 L292.03 386.35 L293.11 386.50 L294.19 386.65 L295.27 386.81 L296.35 386.96 L297.43 387.11 L298.52 387.26 L299.60 387.41 L300.68 387.56 L301.76 387.70 L302.84 387.85 L303.92 388.00 L305.00 388.14 L306.09 388.29 L307.17 388.43 L308.25 388.58 L309.33 388.72 L310.41 388.86 L311.49 389.00 L312.57 389.14 L313.65 389.28 L314.74 389.42 L315.82 389.56 L316.90 389.70 L317.98 389.83 L319.06 389.97 L320.14 390.11 L321.22 390.24 L322.31 390.38 L323.39 390.51 L324.47 390.64 L325.55 390.78 L326.63 390.91 L327.71 391.04 L328.79 391.17 L329.87 391.30 L330.96 391.43 L332.04 391.56 L333.12 391.68 L334.20 391.81 L335.28 391.94 L336.36 392.06 L337.44 392.19 L338.53 392.31 L339.61 392.44 L340.69 392.56 L341.77 392.69 L342.85 392.81 L343.93 392.93 L345.01 393.05 L346.09 393.17 L347.18 393.29 L348.26 393.41 L349.34 393.53 L350.42 393.65 L351.50 393.76 L352.58 393.88 L353.66 394.00 L354.75 394.11 L355.83 394.23 L356.91 394.34 L357.99 394.46 L359.07 394.57 L360.15 394.68 L361.23 394.80 L362.31 394.91 L363.40 395.02 L364.48 395.13 L365.56 395.24 L366.64 395.35 L367.72 395.46 L368.80 395.57 L369.88 395.67 L370.97 395.78 L372.05 395.89 L373.13 395.99 L374.21 396.10 L375.29 396.21 L376.37 396.31 L377.45 396.41 L378.53 396.52 L379.62 396.62 L380.70 396.72 L381.78 396.83 L382.86 396.93 L383.94 397.03 L385.02 397.13 L386.10 397.23 L387.19 397.33 L388.27 397.43 L389.35 397.53 L390.43 397.62 L391.51 397.72 L392.59 397.82 L393.67 397.92 L394.75 398.01 L395.84 398.11 L396.92 398.20 L398.00 398.30 L399.08 398.39 L400.16 398.49 L401.24 398.58 L402.32 398.67 L403.41 398.76 L404.49 398.86 L405.57 398.95 L406.65 399.04 L407.73 399.13 L408.81 399.22 L409.89 399.31 L410.97 399.40 L412.06 399.49 L413.14 399.58 L414.22 399.66 L415.30 399.75" fill="none" stroke="#0433ff" stroke-width="3" stroke-dasharray="10 4.2"/>
<path d="M90.90 417.20 L91.98 416.59 L93.06 415.97 L94.14 415.36 L95.23 414.74 L96.31 414.13 L97.39 413.52 L98.47 412.90 L99.55 412.29 L100.63 411.68 L101.71 411.07 L102.79 410.46 L103.88 409.85 L104.96 409.24 L106.04 408.63 L107.12 408.03 L108.20 407.42 L109.28 406.82 L110.36 406.21 L111.45 405.61 L112.53 405.01 L113.61 404.41 L114.69 403.82 L115.77 403.22 L116.85 402.63 L117.93 402.03 L119.01 401.44 L120.10 400.85 L121.18 400.27 L122.26 399.68 L123.34 399.10 L124.42 398.52 L125.50 397.94 L126.58 397.36 L127.67 396.79 L128.75 396.21 L129.83 395.65 L130.91 395.08 L131.99 394.51 L133.07 393.95 L134.15 393.39 L135.23 392.84 L136.32 392.28 L137.40 391.73 L138.48 391.18 L139.56 390.64 L140.64 390.10 L141.72 389.56 L142.80 389.02 L143.89 388.49 L144.97 387.96 L146.05 387.44 L147.13 386.91 L148.21 386.40 L149.29 385.88 L150.37 385.37 L151.45 384.86 L152.54 384.36 L153.62 383.85 L154.70 383.36 L155.78 382.86 L156.86 382.37 L157.94 381.89 L159.02 381.41 L160.11 380.93 L161.19 380.46 L162.27 379.99 L163.35 379.52 L164.43 379.06 L165.51 378.60 L166.59 378.15 L167.67 377.70 L168.76 377.26 L169.84 376.82 L170.92 376.38 L172.00 375.95 L173.08 375.53 L174.16 375.11 L175.24 374.69 L176.33 374.28 L177.41 373.87 L178.49 373.46 L179.57 373.07 L180.65 372.67 L181.73 372.28 L182.81 371.90 L183.89 371.52 L184.98 371.15 L186.06 370.78 L187.14 370.41 L188.22 370.05 L189.30 369.70 L190.38 369.35 L191.46 369.00 L192.55 368.66 L193.63 368.33 L194.71 368.00 L195.79 367.67 L196.87 367.35 L197.95 367.04 L199.03 366.73 L200.11 366.43 L201.20 366.13 L202.28 365.84 L203.36 365.55 L204.44 365.26 L205.52 364.99 L206.60 364.71 L207.68 364.45 L208.77 364.18 L209.85 363.93 L210.93 363.68 L212.01 363.43 L213.09 363.19 L214.17 362.95 L215.25 362.72 L216.33 362.50 L217.42 362.28 L218.50 362.06 L219.58 361.85 L220.66 361.65 L221.74 361.45 L222.82 361.26 L223.90 361.07 L224.99 360.89 L226.07 360.71 L227.15 360.54 L228.23 360.37 L229.31 360.21 L230.39 360.05 L231.47 359.90 L232.55 359.76 L233.64 359.62 L234.72 359.48 L235.80 359.35 L236.88 359.23 L237.96 359.11 L239.04 358.99 L240.12 358.88 L241.21 358.78 L242.29 358.68 L243.37 358.59 L244.45 358.50 L245.53 358.42 L246.61 358.34 L247.69 358.26 L248.77 358.20 L249.86 358.13 L250.94 358.07 L252.02 358.02 L253.10 357.97 L254.18 357.93 L255.26 357.89 L256.34 357.86 L257.43 357.83 L258.51 357.80 L259.59 357.78 L260.67 357.77 L261.75 357.76 L262.83 357.76 L263.91 357.75 L264.99 357.76 L266.08 357.77 L267.16 357.78 L268.24 357.80 L269.32 357.82 L270.40 357.85 L271.48 357.88 L272.56 357.92 L273.65 357.96 L274.73 358.00 L275.81 358.05 L276.89 358.10 L277.97 358.16 L279.05 358.22 L280.13 358.29 L281.21 358.36 L282.30 358.44 L283.38 358.51 L284.46 358.60 L285.54 358.68 L286.62 358.77 L287.70 358.87 L288.78 358.97 L289.87 359.07 L290.95 359.17 L292.03 359.28 L293.11 359.40 L294.19 359.51 L295.27 359.64 L296.35 359.76 L297.43 359.89 L298.52 360.02 L299.60 360.15 L300.68 360.29 L301.76 360.44 L302.84 360.58 L303.92 360.73 L305.00 360.88 L306.09 361.04 L307.17 361.19 L308.25 361.36 L309.33 361.52 L310.41 361.69 L311.49 361.86 L312.57 362.03 L313.65 362.21 L314.74 362.39 L315.82 362.57 L316.90 362.75 L317.98 362.94 L319.06 363.13 L320.14 363.33 L321.22 363.52 L322.31 363.72 L323.39 363.92 L324.47 364.12 L325.55 364.33 L326.63 364.54 L327.71 364.75 L328.79 364.96 L329.87 365.18 L330.96 365.39 L332.04 365.61 L333.12 365.83 L334.20 366.06 L335.28 366.28 L336.36 366.51 L337.44 366.74 L338.53 366.97 L339.61 367.20 L340.69 367.44 L341.77 367.68 L342.85 367.92 L343.93 368.16 L345.01 368.40 L346.09 368.64 L347.18 368.89 L348.26 369.13 L349.34 369.38 L350.42 369.63 L351.50 369.88 L352.58 370.13 L353.66 370.39 L354.75 370.64 L355.83 370.90 L356.91 371.15 L357.99 371.41 L359.07 371.67 L360.15 371.93 L361.23 372.19 L362.31 372.46 L363.40 372.72 L364.48 372.98 L365.56 373.25 L366.64 373.51 L367.72 373.78 L368.80 374.05 L369.88 374.32 L370.97 374.58 L372.05 374.85 L373.13 375.12 L374.21 375.39 L375.29 375.66 L376.37 375.94 L377.45 376.21 L378.53 376.48 L379.62 376.75 L380.70 377.02 L381.78 377.30 L382.86 377.57 L383.94 377.84 L385.02 378.12 L386.10 378.39 L387.19 378.67 L388.27 378.94 L389.35 379.21 L390.43 379.49 L391.51 379.76 L392.59 380.04 L393.67 380.31 L394.75 380.58 L395.84 380.86 L396.92 381.13 L398.00 381.40 L399.08 381.68 L400.16 381.95 L401.24 382.22 L402.32 382.49 L403.41 382.77 L404.49 383.04 L405.57 383.31 L406.65 383.58 L407.73 383.85 L408.81 384.12 L409.89 384.39 L410.97 384.66 L412.06 384.93 L413.14 385.19 L414.22 385.46 L415.30 385.73" fill="none" stroke="#0433ff" stroke-width="4" stroke-dasharray="4 4.3"/>
<path d="M415.30 260.80 L416.38 262.36 L417.46 263.90 L418.54 265.42 L419.62 266.93 L420.71 268.43 L421.79 269.91 L422.87 271.37 L423.95 272.82 L425.03 274.26 L426.11 275.68 L427.19 277.09 L428.27 278.49 L429.35 279.87 L430.43 281.23 L431.51 282.59 L432.60 283.92 L433.68 285.25 L434.76 286.56 L435.84 287.86 L436.92 289.15 L438.00 290.42 L439.08 291.69 L440.16 292.93 L441.24 294.17 L442.32 295.40 L443.41 296.61 L444.49 297.81 L445.57 299.00 L446.65 300.17 L447.73 301.34 L448.81 302.49 L449.89 303.63 L450.97 304.76 L452.05 305.88 L453.13 306.99 L454.22 308.08 L455.30 309.17 L456.38 310.24 L457.46 311.31 L458.54 312.36 L459.62 313.41 L460.70 314.44 L461.78 315.46 L462.86 316.47 L463.94 317.47 L465.03 318.47 L466.11 319.45 L467.19 320.42 L468.27 321.39 L469.35 322.34 L470.43 323.28 L471.51 324.22 L472.59 325.14 L473.67 326.06 L474.75 326.97 L475.84 327.86 L476.92 328.75 L478.00 329.63 L479.08 330.50 L480.16 331.37 L481.24 332.22 L482.32 333.07 L483.40 333.90 L484.48 334.73 L485.57 335.55 L486.65 336.36 L487.73 337.17 L488.81 337.97 L489.89 338.75 L490.97 339.53 L492.05 340.31 L493.13 341.07 L494.21 341.83 L495.29 342.58 L496.38 343.32 L497.46 344.06 L498.54 344.78 L499.62 345.51 L500.70 346.22 L501.78 346.92 L502.86 347.62 L503.94 348.32 L505.02 349.00 L506.10 349.68 L507.19 350.35 L508.27 351.02 L509.35 351.68 L510.43 352.33 L511.51 352.97 L512.59 353.61 L513.67 354.25 L514.75 354.87 L515.83 355.49 L516.91 356.11 L518.00 356.71 L519.08 357.32 L520.16 357.91 L521.24 358.50 L522.32 359.09 L523.40 359.66 L524.48 360.24 L525.56 360.80 L526.64 361.36 L527.72 361.92 L528.81 362.47 L529.89 363.01 L530.97 363.55 L532.05 364.09 L533.13 364.62 L534.21 365.14 L535.29 365.66 L536.37 366.17 L537.45 366.68 L538.53 367.18 L539.62 367.68 L540.70 368.17 L541.78 368.66 L542.86 369.14 L543.94 369.62 L545.02 370.09 L546.10 370.56 L547.18 371.03 L548.26 371.49 L549.34 371.94 L550.42 372.39 L551.51 372.84 L552.59 373.28 L553.67 373.71 L554.75 374.15 L555.83 374.58 L556.91 375.00 L557.99 375.42 L559.07 375.84 L560.15 376.25 L561.24 376.65 L562.32 377.06 L563.40 377.46 L564.48 377.85 L565.56 378.24 L566.64 378.63 L567.72 379.02 L568.80 379.40 L569.88 379.77 L570.96 380.14 L572.05 380.51 L573.13 380.88 L574.21 381.24 L575.29 381.60 L576.37 381.95 L577.45 382.30 L578.53 382.65 L579.61 382.99 L580.69 383.33 L581.77 383.67 L582.86 384.00 L583.94 384.33 L585.02 384.66 L586.10 384.99 L587.18 385.31 L588.26 385.62 L589.34 385.94 L590.42 386.25 L591.50 386.56 L592.58 386.86 L593.67 387.16 L594.75 387.46 L595.83 387.76 L596.91 388.05 L597.99 388.34 L599.07 388.63 L600.15 388.91 L601.23 389.19 L602.31 389.47 L603.39 389.75 L604.48 390.02 L605.56 390.29 L606.64 390.56 L607.72 390.82 L608.80 391.09 L609.88 391.35 L610.96 391.60 L612.04 391.86 L613.12 392.11 L614.20 392.36 L615.29 392.61 L616.37 392.85 L617.45 393.10 L618.53 393.33 L619.61 393.57 L620.69 393.81 L621.77 394.04 L622.85 394.27 L623.93 394.50 L625.01 394.72 L626.10 394.95 L627.18 395.17 L628.26 395.39 L629.34 395.61 L630.42 395.82 L631.50 396.03 L632.58 396.24 L633.66 396.45 L634.74 396.66 L635.82 396.86 L636.90 397.07 L637.99 397.27 L639.07 397.46 L640.15 397.66 L641.23 397.86 L642.31 398.05 L643.39 398.24 L644.47 398.43 L645.55 398.61 L646.63 398.80 L647.72 398.98 L648.80 399.16 L649.88 399.34 L650.96 399.52 L652.04 399.70 L653.12 399.87 L654.20 400.04 L655.28 400.21 L656.36 400.38 L657.44 400.55 L658.53 400.72 L659.61 400.88 L660.69 401.04 L661.77 401.20 L662.85 401.36 L663.93 401.52 L665.01 401.68 L666.09 401.83 L667.17 401.98 L668.25 402.13 L669.34 402.28 L670.42 402.43 L671.50 402.58 L672.58 402.73 L673.66 402.87 L674.74 403.01 L675.82 403.15 L676.90 403.29 L677.98 403.43 L679.06 403.57 L680.14 403.70 L681.23 403.84 L682.31 403.97 L683.39 404.10 L684.47 404.23 L685.55 404.36 L686.63 404.49 L687.71 404.62 L688.79 404.74 L689.87 404.87 L690.96 404.99 L692.04 405.11 L693.12 405.23 L694.20 405.35 L695.28 405.47 L696.36 405.58 L697.44 405.70 L698.52 405.81 L699.60 405.93 L700.68 406.04 L701.77 406.15 L702.85 406.26 L703.93 406.37 L705.01 406.48 L706.09 406.58 L707.17 406.69 L708.25 406.79 L709.33 406.90 L710.41 407.00 L711.49 407.10 L712.58 407.20 L713.66 407.30 L714.74 407.40 L715.82 407.50 L716.90 407.59 L717.98 407.69 L719.06 407.78 L720.14 407.88 L721.22 407.97 L722.30 408.06 L723.38 408.15 L724.47 408.24 L725.55 408.33 L726.63 408.42 L727.71 408.51 L728.79 408.59 L729.87 408.68 L730.95 408.76 L732.03 408.85 L733.11 408.93 L734.20 409.01 L735.28 409.10 L736.36 409.18 L737.44 409.26 L738.52 409.34 L739.60 409.41" fill="none" stroke="#0433ff" stroke-width="3" stroke-dasharray="10 4.2"/>
<path d="M415.30 417.20 L416.38 414.74 L417.46 412.29 L418.54 409.84 L419.62 407.39 L420.71 404.94 L421.79 402.50 L422.87 400.07 L423.95 397.64 L425.03 395.23 L426.11 392.82 L427.19 390.43 L428.27 388.05 L429.35 385.68 L430.43 383.33 L431.51 380.99 L432.60 378.67 L433.68 376.37 L434.76 374.09 L435.84 371.83 L436.92 369.59 L438.00 367.37 L439.08 365.17 L440.16 362.99 L441.24 360.85 L442.32 358.72 L443.41 356.63 L444.49 354.56 L445.57 352.52 L446.65 350.51 L447.73 348.53 L448.81 346.58 L449.89 344.66 L450.97 342.77 L452.05 340.92 L453.13 339.10 L454.22 337.32 L455.30 335.57 L456.38 333.85 L457.46 332.18 L458.54 330.54 L459.62 328.93 L460.70 327.37 L461.78 325.84 L462.86 324.35 L463.94 322.90 L465.03 321.49 L466.11 320.13 L467.19 318.80 L468.27 317.51 L469.35 316.26 L470.43 315.06 L471.51 313.89 L472.59 312.77 L473.67 311.69 L474.75 310.65 L475.84 309.66 L476.92 308.70 L478.00 307.79 L479.08 306.93 L480.16 306.10 L481.24 305.32 L482.32 304.58 L483.40 303.88 L484.48 303.22 L485.57 302.61 L486.65 302.04 L487.73 301.51 L488.81 301.02 L489.89 300.57 L490.97 300.16 L492.05 299.80 L493.13 299.48 L494.21 299.19 L495.29 298.95 L496.38 298.75 L497.46 298.58 L498.54 298.46 L499.62 298.37 L500.70 298.32 L501.78 298.31 L502.86 298.34 L503.94 298.40 L505.02 298.50 L506.10 298.63 L507.19 298.80 L508.27 299.01 L509.35 299.25 L510.43 299.52 L511.51 299.83 L512.59 300.17 L513.67 300.54 L514.75 300.94 L515.83 301.37 L516.91 301.83 L518.00 302.32 L519.08 302.84 L520.16 303.39 L521.24 303.96 L522.32 304.56 L523.40 305.19 L524.48 305.84 L525.56 306.52 L526.64 307.22 L527.72 307.94 L528.81 308.69 L529.89 309.45 L530.97 310.24 L532.05 311.05 L533.13 311.88 L534.21 312.72 L535.29 313.59 L536.37 314.47 L537.45 315.37 L538.53 316.28 L539.62 317.21 L540.70 318.15 L541.78 319.11 L542.86 320.08 L543.94 321.07 L545.02 322.06 L546.10 323.07 L547.18 324.08 L548.26 325.11 L549.34 326.14 L550.42 327.19 L551.51 328.24 L552.59 329.30 L553.67 330.36 L554.75 331.43 L555.83 332.51 L556.91 333.59 L557.99 334.67 L559.07 335.76 L560.15 336.85 L561.24 337.94 L562.32 339.04 L563.40 340.13 L564.48 341.23 L565.56 342.32 L566.64 343.42 L567.72 344.51 L568.80 345.61 L569.88 346.70 L570.96 347.79 L572.05 348.88 L573.13 349.96 L574.21 351.04 L575.29 352.11 L576.37 353.19 L577.45 354.25 L578.53 355.31 L579.61 356.37 L580.69 357.42 L581.77 358.46 L582.86 359.50 L583.94 360.52 L585.02 361.55 L586.10 362.56 L587.18 363.57 L588.26 364.56 L589.34 365.55 L590.42 366.54 L591.50 367.51 L592.58 368.47 L593.67 369.42 L594.75 370.37 L595.83 371.30 L596.91 372.23 L597.99 373.14 L599.07 374.04 L600.15 374.94 L601.23 375.82 L602.31 376.69 L603.39 377.55 L604.48 378.40 L605.56 379.24 L606.64 380.07 L607.72 380.89 L608.80 381.69 L609.88 382.49 L610.96 383.27 L612.04 384.04 L613.12 384.80 L614.20 385.55 L615.29 386.29 L616.37 387.01 L617.45 387.73 L618.53 388.43 L619.61 389.12 L620.69 389.80 L621.77 390.47 L622.85 391.12 L623.93 391.77 L625.01 392.40 L626.10 393.02 L627.18 393.64 L628.26 394.23 L629.34 394.82 L630.42 395.40 L631.50 395.97 L632.58 396.52 L633.66 397.07 L634.74 397.60 L635.82 398.12 L636.90 398.64 L637.99 399.14 L639.07 399.63 L640.15 400.11 L641.23 400.58 L642.31 401.04 L643.39 401.49 L644.47 401.94 L645.55 402.37 L646.63 402.79 L647.72 403.20 L648.80 403.60 L649.88 404.00 L650.96 404.38 L652.04 404.76 L653.12 405.13 L654.20 405.48 L655.28 405.83 L656.36 406.17 L657.44 406.51 L658.53 406.83 L659.61 407.15 L660.69 407.46 L661.77 407.76 L662.85 408.05 L663.93 408.33 L665.01 408.61 L666.09 408.88 L667.17 409.15 L668.25 409.40 L669.34 409.65 L670.42 409.90 L671.50 410.13 L672.58 410.36 L673.66 410.59 L674.74 410.80 L675.82 411.02 L676.90 411.22 L677.98 411.42 L679.06 411.62 L680.14 411.80 L681.23 411.99 L682.31 412.16 L683.39 412.34 L684.47 412.50 L685.55 412.67 L686.63 412.82 L687.71 412.98 L688.79 413.12 L689.87 413.27 L690.96 413.41 L692.04 413.54 L693.12 413.67 L694.20 413.80 L695.28 413.92 L696.36 414.04 L697.44 414.16 L698.52 414.27 L699.60 414.38 L700.68 414.48 L701.77 414.58 L702.85 414.68 L703.93 414.77 L705.01 414.86 L706.09 414.95 L707.17 415.04 L708.25 415.12 L709.33 415.20 L710.41 415.28 L711.49 415.35 L712.58 415.42 L713.66 415.49 L714.74 415.56 L715.82 415.62 L716.90 415.68 L717.98 415.74 L719.06 415.80 L720.14 415.86 L721.22 415.91 L722.30 415.96 L723.38 416.01 L724.47 416.06 L725.55 416.11 L726.63 416.15 L727.71 416.19 L728.79 416.24 L729.87 416.28 L730.95 416.31 L732.03 416.35 L733.11 416.39 L734.20 416.42 L735.28 416.45 L736.36 416.48 L737.44 416.52 L738.52 416.54 L739.60 416.57" fill="none" stroke="#0433ff" stroke-width="4" stroke-dasharray="4 4.3"/>
<path d="M415.30 417.20 L416.38 412.60 L417.46 408.00 L418.54 403.42 L419.62 398.85 L420.71 394.31 L421.79 389.81 L422.87 385.34 L423.95 380.91 L425.03 376.54 L426.11 372.22 L427.19 367.96 L428.27 363.77 L429.35 359.65 L430.43 355.61 L431.51 351.65 L432.60 347.78 L433.68 344.00 L434.76 340.32 L435.84 336.73 L436.92 333.25 L438.00 329.87 L439.08 326.61 L440.16 323.45 L441.24 320.42 L442.32 317.50 L443.41 314.70 L444.49 312.02 L445.57 309.46 L446.65 307.03 L447.73 304.73 L448.81 302.55 L449.89 300.49 L450.97 298.57 L452.05 296.77 L453.13 295.09 L454.22 293.54 L455.30 292.12 L456.38 290.81 L457.46 289.63 L458.54 288.57 L459.62 287.63 L460.70 286.80 L461.78 286.09 L462.86 285.49 L463.94 285.01 L465.03 284.62 L466.11 284.35 L467.19 284.17 L468.27 284.09 L469.35 284.11 L470.43 284.22 L471.51 284.42 L472.59 284.70 L473.67 285.07 L474.75 285.51 L475.84 286.03 L476.92 286.62 L478.00 287.29 L479.08 288.01 L480.16 288.80 L481.24 289.65 L482.32 290.55 L483.40 291.50 L484.48 292.50 L485.57 293.55 L486.65 294.63 L487.73 295.76 L488.81 296.92 L489.89 298.11 L490.97 299.33 L492.05 300.58 L493.13 301.86 L494.21 303.15 L495.29 304.46 L496.38 305.79 L497.46 307.14 L498.54 308.49 L499.62 309.85 L500.70 311.22 L501.78 312.60 L502.86 313.98 L503.94 315.35 L505.02 316.73 L506.10 318.11 L507.19 319.48 L508.27 320.85 L509.35 322.22 L510.43 323.57 L511.51 324.92 L512.59 326.25 L513.67 327.58 L514.75 328.89 L515.83 330.20 L516.91 331.49 L518.00 332.76 L519.08 334.02 L520.16 335.27 L521.24 336.50 L522.32 337.71 L523.40 338.91 L524.48 340.09 L525.56 341.26 L526.64 342.41 L527.72 343.54 L528.81 344.65 L529.89 345.75 L530.97 346.83 L532.05 347.89 L533.13 348.94 L534.21 349.97 L535.29 350.98 L536.37 351.97 L537.45 352.95 L538.53 353.91 L539.62 354.85 L540.70 355.78 L541.78 356.69 L542.86 357.58 L543.94 358.46 L545.02 359.33 L546.10 360.17 L547.18 361.01 L548.26 361.83 L549.34 362.63 L550.42 363.42 L551.51 364.20 L552.59 364.96 L553.67 365.71 L554.75 366.44 L555.83 367.16 L556.91 367.87 L557.99 368.57 L559.07 369.26 L560.15 369.93 L561.24 370.59 L562.32 371.24 L563.40 371.88 L564.48 372.51 L565.56 373.13 L566.64 373.74 L567.72 374.33 L568.80 374.92 L569.88 375.50 L570.96 376.07 L572.05 376.63 L573.13 377.18 L574.21 377.72 L575.29 378.25 L576.37 378.77 L577.45 379.29 L578.53 379.80 L579.61 380.30 L580.69 380.79 L581.77 381.27 L582.86 381.75 L583.94 382.22 L585.02 382.68 L586.10 383.13 L587.18 383.58 L588.26 384.02 L589.34 384.46 L590.42 384.89 L591.50 385.31 L592.58 385.72 L593.67 386.13 L594.75 386.54 L595.83 386.94 L596.91 387.33 L597.99 387.72 L599.07 388.10 L600.15 388.47 L601.23 388.84 L602.31 389.21 L603.39 389.57 L604.48 389.92 L605.56 390.27 L606.64 390.62 L607.72 390.96 L608.80 391.29 L609.88 391.62 L610.96 391.95 L612.04 392.27 L613.12 392.59 L614.20 392.90 L615.29 393.21 L616.37 393.51 L617.45 393.82 L618.53 394.11 L619.61 394.40 L620.69 394.69 L621.77 394.98 L622.85 395.26 L623.93 395.54 L625.01 395.81 L626.10 396.08 L627.18 396.34 L628.26 396.61 L629.34 396.87 L630.42 397.12 L631.50 397.37 L632.58 397.62 L633.66 397.87 L634.74 398.11 L635.82 398.35 L636.90 398.59 L637.99 398.82 L639.07 399.05 L640.15 399.28 L641.23 399.50 L642.31 399.72 L643.39 399.94 L644.47 400.16 L645.55 400.37 L646.63 400.58 L647.72 400.79 L648.80 400.99 L649.88 401.19 L650.96 401.39 L652.04 401.59 L653.12 401.78 L654.20 401.97 L655.28 402.16 L656.36 402.35 L657.44 402.54 L658.53 402.72 L659.61 402.90 L660.69 403.08 L661.77 403.25 L662.85 403.42 L663.93 403.59 L665.01 403.76 L666.09 403.93 L667.17 404.09 L668.25 404.26 L669.34 404.42 L670.42 404.57 L671.50 404.73 L672.58 404.88 L673.66 405.04 L674.74 405.19 L675.82 405.34 L676.90 405.48 L677.98 405.63 L679.06 405.77 L680.14 405.91 L681.23 406.05 L682.31 406.19 L683.39 406.32 L684.47 406.46 L685.55 406.59 L686.63 406.72 L687.71 406.85 L688.79 406.98 L689.87 407.10 L690.96 407.23 L692.04 407.35 L693.12 407.47 L694.20 407.59 L695.28 407.71 L696.36 407.83 L697.44 407.94 L698.52 408.06 L699.60 408.17 L700.68 408.28 L701.77 408.39 L702.85 408.50 L703.93 408.60 L705.01 408.71 L706.09 408.81 L707.17 408.92 L708.25 409.02 L709.33 409.12 L710.41 409.22 L711.49 409.32 L712.58 409.41 L713.66 409.51 L714.74 409.60 L715.82 409.70 L716.90 409.79 L717.98 409.88 L719.06 409.97 L720.14 410.06 L721.22 410.15 L722.30 410.23 L723.38 410.32 L724.47 410.40 L725.55 410.49 L726.63 410.57 L727.71 410.65 L728.79 410.73 L729.87 410.81 L730.95 410.89 L732.03 410.96 L733.11 411.04 L734.20 411.12 L735.28 411.19 L736.36 411.26 L737.44 411.34 L738.52 411.41 L739.60 411.48" fill="none" stroke="#ff2600" stroke-width="2"/>
<path d="M90.90 541.88 L91.98 542.25 L93.06 542.62 L94.14 542.99 L95.23 543.36 L96.31 543.73 L97.39 544.10 L98.47 544.46 L99.55 544.82 L100.63 545.18 L101.71 545.54 L102.79 545.90 L103.88 546.25 L104.96 546.60 L106.04 546.95 L107.12 547.30 L108.20 547.65 L109.28 548.00 L110.36 548.34 L111.45 548.68 L112.53 549.02 L113.61 549.36 L114.69 549.70 L115.77 550.04 L116.85 550.37 L117.93 550.70 L119.01 551.03 L120.10 551.36 L121.18 551.69 L122.26 552.02 L123.34 552.34 L124.42 552.66 L125.50 552.98 L126.58 553.30 L127.67 553.62 L128.75 553.94 L129.83 554.25 L130.91 554.56 L131.99 554.87 L133.07 555.18 L134.15 555.49 L135.23 555.80 L136.32 556.10 L137.40 556.41 L138.48 556.71 L139.56 557.01 L140.64 557.31 L141.72 557.61 L142.80 557.90 L143.89 558.20 L144.97 558.49 L146.05 558.78 L147.13 559.07 L148.21 559.36 L149.29 559.65 L150.37 559.94 L151.45 560.22 L152.54 560.50 L153.62 560.79 L154.70 561.07 L155.78 561.35 L156.86 561.62 L157.94 561.90 L159.02 562.17 L160.11 562.45 L161.19 562.72 L162.27 562.99 L163.35 563.26 L164.43 563.53 L165.51 563.79 L166.59 564.06 L167.67 564.32 L168.76 564.59 L169.84 564.85 L170.92 565.11 L172.00 565.37 L173.08 565.62 L174.16 565.88 L175.24 566.14 L176.33 566.39 L177.41 566.64 L178.49 566.89 L179.57 567.14 L180.65 567.39 L181.73 567.64 L182.81 567.89 L183.89 568.13 L184.98 568.37 L186.06 568.62 L187.14 568.86 L188.22 569.10 L189.30 569.34 L190.38 569.57 L191.46 569.81 L192.55 570.05 L193.63 570.28 L194.71 570.51 L195.79 570.75 L196.87 570.98 L197.95 571.21 L199.03 571.43 L200.11 571.66 L201.20 571.89 L202.28 572.11 L203.36 572.34 L204.44 572.56 L205.52 572.78 L206.60 573.00 L207.68 573.22 L208.77 573.44 L209.85 573.66 L210.93 573.87 L212.01 574.09 L213.09 574.30 L214.17 574.51 L215.25 574.73 L216.33 574.94 L217.42 575.15 L218.50 575.36 L219.58 575.56 L220.66 575.77 L221.74 575.98 L222.82 576.18 L223.90 576.38 L224.99 576.59 L226.07 576.79 L227.15 576.99 L228.23 577.19 L229.31 577.39 L230.39 577.58 L231.47 577.78 L232.55 577.98 L233.64 578.17 L234.72 578.37 L235.80 578.56 L236.88 578.75 L237.96 578.94 L239.04 579.13 L240.12 579.32 L241.21 579.51 L242.29 579.69 L243.37 579.88 L244.45 580.07 L245.53 580.25 L246.61 580.43 L247.69 580.62 L248.77 580.80 L249.86 580.98 L250.94 581.16 L252.02 581.34 L253.10 581.51 L254.18 581.69 L255.26 581.87 L256.34 582.04 L257.43 582.22 L258.51 582.39 L259.59 582.56 L260.67 582.73 L261.75 582.90 L262.83 583.07 L263.91 583.24 L264.99 583.41 L266.08 583.58 L267.16 583.75 L268.24 583.91 L269.32 584.08 L270.40 584.24 L271.48 584.41 L272.56 584.57 L273.65 584.73 L274.73 584.89 L275.81 585.05 L276.89 585.21 L277.97 585.37 L279.05 585.53 L280.13 585.68 L281.21 585.84 L282.30 585.99 L283.38 586.15 L284.46 586.30 L285.54 586.46 L286.62 586.61 L287.70 586.76 L288.78 586.91 L289.87 587.06 L290.95 587.21 L292.03 587.36 L293.11 587.51 L294.19 587.65 L295.27 587.80 L296.35 587.95 L297.43 588.09 L298.52 588.24 L299.60 588.38 L300.68 588.52 L301.76 588.66 L302.84 588.80 L303.92 588.95 L305.00 589.09 L306.09 589.22 L307.17 589.36 L308.25 589.50 L309.33 589.64 L310.41 589.77 L311.49 589.91 L312.57 590.05 L313.65 590.18 L314.74 590.31 L315.82 590.45 L316.90 590.58 L317.98 590.71 L319.06 590.84 L320.14 590.97 L321.22 591.10 L322.31 591.23 L323.39 591.36 L324.47 591.49 L325.55 591.62 L326.63 591.74 L327.71 591.87 L328.79 591.99 L329.87 592.12 L330.96 592.24 L332.04 592.37 L333.12 592.49 L334.20 592.61 L335.28 592.73 L336.36 592.85 L337.44 592.97 L338.53 593.09 L339.61 593.21 L340.69 593.33 L341.77 593.45 L342.85 593.57 L343.93 593.68 L345.01 593.80 L346.09 593.92 L347.18 594.03 L348.26 594.15 L349.34 594.26 L350.42 594.37 L351.50 594.49 L352.58 594.60 L353.66 594.71 L354.75 594.82 L355.83 594.93 L356.91 595.04 L357.99 595.15 L359.07 595.26 L360.15 595.37 L361.23 595.48 L362.31 595.58 L363.40 595.69 L364.48 595.80 L365.56 595.90 L366.64 596.01 L367.72 596.11 L368.80 596.22 L369.88 596.32 L370.97 596.42 L372.05 596.53 L373.13 596.63 L374.21 596.73 L375.29 596.83 L376.37 596.93 L377.45 597.03 L378.53 597.13 L379.62 597.23 L380.70 597.33 L381.78 597.43 L382.86 597.52 L383.94 597.62 L385.02 597.72 L386.10 597.81 L387.19 597.91 L388.27 598.01 L389.35 598.10 L390.43 598.19 L391.51 598.29 L392.59 598.38 L393.67 598.47 L394.75 598.57 L395.84 598.66 L396.92 598.75 L398.00 598.84 L399.08 598.93 L400.16 599.02 L401.24 599.11 L402.32 599.20 L403.41 599.29 L404.49 599.38 L405.57 599.47 L406.65 599.55 L407.73 599.64 L408.81 599.73 L409.89 599.81 L410.97 599.90 L412.06 599.98 L413.14 600.07 L414.22 600.15 L415.30 600.24" fill="none" stroke="#0433ff" stroke-width="3" stroke-dasharray="10 4.2"/>
<path d="M90.90 617.00 L91.98 616.41 L93.06 615.82 L94.14 615.23 L95.23 614.64 L96.31 614.05 L97.39 613.46 L98.47 612.87 L99.55 612.29 L100.63 611.70 L101.71 611.11 L102.79 610.53 L103.88 609.94 L104.96 609.36 L106.04 608.77 L107.12 608.19 L108.20 607.61 L109.28 607.03 L110.36 606.45 L111.45 605.87 L112.53 605.29 L113.61 604.72 L114.69 604.14 L115.77 603.57 L116.85 603.00 L117.93 602.43 L119.01 601.86 L120.10 601.30 L121.18 600.73 L122.26 600.17 L123.34 599.61 L124.42 599.05 L125.50 598.49 L126.58 597.94 L127.67 597.39 L128.75 596.84 L129.83 596.29 L130.91 595.75 L131.99 595.21 L133.07 594.67 L134.15 594.13 L135.23 593.59 L136.32 593.06 L137.40 592.53 L138.48 592.01 L139.56 591.48 L140.64 590.96 L141.72 590.45 L142.80 589.93 L143.89 589.42 L144.97 588.91 L146.05 588.41 L147.13 587.90 L148.21 587.41 L149.29 586.91 L150.37 586.42 L151.45 585.93 L152.54 585.45 L153.62 584.97 L154.70 584.49 L155.78 584.01 L156.86 583.54 L157.94 583.08 L159.02 582.61 L160.11 582.16 L161.19 581.70 L162.27 581.25 L163.35 580.80 L164.43 580.36 L165.51 579.92 L166.59 579.49 L167.67 579.06 L168.76 578.63 L169.84 578.21 L170.92 577.79 L172.00 577.38 L173.08 576.97 L174.16 576.56 L175.24 576.16 L176.33 575.76 L177.41 575.37 L178.49 574.98 L179.57 574.60 L180.65 574.22 L181.73 573.85 L182.81 573.48 L183.89 573.12 L184.98 572.76 L186.06 572.40 L187.14 572.05 L188.22 571.71 L189.30 571.36 L190.38 571.03 L191.46 570.70 L192.55 570.37 L193.63 570.05 L194.71 569.73 L195.79 569.42 L196.87 569.11 L197.95 568.81 L199.03 568.52 L200.11 568.22 L201.20 567.94 L202.28 567.65 L203.36 567.38 L204.44 567.11 L205.52 566.84 L206.60 566.58 L207.68 566.32 L208.77 566.07 L209.85 565.82 L210.93 565.58 L212.01 565.34 L213.09 565.11 L214.17 564.89 L215.25 564.66 L216.33 564.45 L217.42 564.24 L218.50 564.03 L219.58 563.83 L220.66 563.63 L221.74 563.44 L222.82 563.26 L223.90 563.08 L224.99 562.90 L226.07 562.73 L227.15 562.57 L228.23 562.41 L229.31 562.25 L230.39 562.10 L231.47 561.96 L232.55 561.82 L233.64 561.68 L234.72 561.55 L235.80 561.43 L236.88 561.31 L237.96 561.19 L239.04 561.08 L240.12 560.98 L241.21 560.88 L242.29 560.78 L243.37 560.69 L244.45 560.61 L245.53 560.53 L246.61 560.45 L247.69 560.38 L248.77 560.32 L249.86 560.26 L250.94 560.20 L252.02 560.15 L253.10 560.10 L254.18 560.06 L255.26 560.02 L256.34 559.99 L257.43 559.96 L258.51 559.94 L259.59 559.92 L260.67 559.91 L261.75 559.90 L262.83 559.89 L263.91 559.89 L264.99 559.90 L266.08 559.91 L267.16 559.92 L268.24 559.94 L269.32 559.96 L270.40 559.98 L271.48 560.01 L272.56 560.05 L273.65 560.09 L274.73 560.13 L275.81 560.18 L276.89 560.23 L277.97 560.28 L279.05 560.34 L280.13 560.41 L281.21 560.47 L282.30 560.55 L283.38 560.62 L284.46 560.70 L285.54 560.78 L286.62 560.87 L287.70 560.96 L288.78 561.06 L289.87 561.15 L290.95 561.26 L292.03 561.36 L293.11 561.47 L294.19 561.58 L295.27 561.70 L296.35 561.82 L297.43 561.94 L298.52 562.07 L299.60 562.20 L300.68 562.33 L301.76 562.47 L302.84 562.61 L303.92 562.75 L305.00 562.90 L306.09 563.04 L307.17 563.20 L308.25 563.35 L309.33 563.51 L310.41 563.67 L311.49 563.83 L312.57 564.00 L313.65 564.17 L314.74 564.34 L315.82 564.52 L316.90 564.70 L317.98 564.88 L319.06 565.06 L320.14 565.24 L321.22 565.43 L322.31 565.62 L323.39 565.82 L324.47 566.01 L325.55 566.21 L326.63 566.41 L327.71 566.61 L328.79 566.82 L329.87 567.02 L330.96 567.23 L332.04 567.44 L333.12 567.65 L334.20 567.87 L335.28 568.09 L336.36 568.30 L337.44 568.52 L338.53 568.75 L339.61 568.97 L340.69 569.20 L341.77 569.42 L342.85 569.65 L343.93 569.88 L345.01 570.12 L346.09 570.35 L347.18 570.59 L348.26 570.82 L349.34 571.06 L350.42 571.30 L351.50 571.54 L352.58 571.78 L353.66 572.03 L354.75 572.27 L355.83 572.52 L356.91 572.76 L357.99 573.01 L359.07 573.26 L360.15 573.51 L361.23 573.76 L362.31 574.02 L363.40 574.27 L364.48 574.52 L365.56 574.78 L366.64 575.03 L367.72 575.29 L368.80 575.54 L369.88 575.80 L370.97 576.06 L372.05 576.32 L373.13 576.58 L374.21 576.84 L375.29 577.10 L376.37 577.36 L377.45 577.62 L378.53 577.88 L379.62 578.14 L380.70 578.40 L381.78 578.67 L382.86 578.93 L383.94 579.19 L385.02 579.45 L386.10 579.72 L387.19 579.98 L388.27 580.24 L389.35 580.51 L390.43 580.77 L391.51 581.03 L392.59 581.30 L393.67 581.56 L394.75 581.82 L395.84 582.09 L396.92 582.35 L398.00 582.61 L399.08 582.87 L400.16 583.14 L401.24 583.40 L402.32 583.66 L403.41 583.92 L404.49 584.18 L405.57 584.44 L406.65 584.70 L407.73 584.96 L408.81 585.22 L409.89 585.48 L410.97 585.74 L412.06 585.99 L413.14 586.25 L414.22 586.51 L415.30 586.76" fill="none" stroke="#0433ff" stroke-width="4" stroke-dasharray="4 4.3"/>
<path d="M415.30 466.75 L416.38 468.25 L417.46 469.73 L418.54 471.19 L419.62 472.64 L420.71 474.08 L421.79 475.50 L422.87 476.91 L423.95 478.30 L425.03 479.68 L426.11 481.05 L427.19 482.40 L428.27 483.74 L429.35 485.07 L430.43 486.38 L431.51 487.68 L432.60 488.97 L433.68 490.24 L434.76 491.50 L435.84 492.75 L436.92 493.99 L438.00 495.21 L439.08 496.42 L440.16 497.62 L441.24 498.81 L442.32 499.99 L443.41 501.15 L444.49 502.30 L445.57 503.44 L446.65 504.57 L447.73 505.69 L448.81 506.80 L449.89 507.90 L450.97 508.98 L452.05 510.06 L453.13 511.12 L454.22 512.17 L455.30 513.22 L456.38 514.25 L457.46 515.27 L458.54 516.28 L459.62 517.29 L460.70 518.28 L461.78 519.26 L462.86 520.23 L463.94 521.20 L465.03 522.15 L466.11 523.09 L467.19 524.03 L468.27 524.95 L469.35 525.87 L470.43 526.78 L471.51 527.67 L472.59 528.56 L473.67 529.44 L474.75 530.31 L475.84 531.18 L476.92 532.03 L478.00 532.88 L479.08 533.71 L480.16 534.54 L481.24 535.36 L482.32 536.17 L483.40 536.98 L484.48 537.77 L485.57 538.56 L486.65 539.34 L487.73 540.12 L488.81 540.88 L489.89 541.64 L490.97 542.39 L492.05 543.13 L493.13 543.87 L494.21 544.59 L495.29 545.31 L496.38 546.03 L497.46 546.73 L498.54 547.43 L499.62 548.12 L500.70 548.81 L501.78 549.49 L502.86 550.16 L503.94 550.83 L505.02 551.48 L506.10 552.14 L507.19 552.78 L508.27 553.42 L509.35 554.05 L510.43 554.68 L511.51 555.30 L512.59 555.91 L513.67 556.52 L514.75 557.12 L515.83 557.72 L516.91 558.31 L518.00 558.89 L519.08 559.47 L520.16 560.04 L521.24 560.61 L522.32 561.17 L523.40 561.73 L524.48 562.28 L525.56 562.82 L526.64 563.36 L527.72 563.89 L528.81 564.42 L529.89 564.95 L530.97 565.46 L532.05 565.98 L533.13 566.48 L534.21 566.99 L535.29 567.48 L536.37 567.98 L537.45 568.46 L538.53 568.95 L539.62 569.43 L540.70 569.90 L541.78 570.37 L542.86 570.83 L543.94 571.29 L545.02 571.75 L546.10 572.20 L547.18 572.64 L548.26 573.08 L549.34 573.52 L550.42 573.95 L551.51 574.38 L552.59 574.81 L553.67 575.22 L554.75 575.64 L555.83 576.05 L556.91 576.46 L557.99 576.86 L559.07 577.26 L560.15 577.66 L561.24 578.05 L562.32 578.44 L563.40 578.82 L564.48 579.20 L565.56 579.58 L566.64 579.95 L567.72 580.32 L568.80 580.68 L569.88 581.04 L570.96 581.40 L572.05 581.76 L573.13 582.11 L574.21 582.45 L575.29 582.80 L576.37 583.14 L577.45 583.47 L578.53 583.81 L579.61 584.14 L580.69 584.47 L581.77 584.79 L582.86 585.11 L583.94 585.43 L585.02 585.74 L586.10 586.05 L587.18 586.36 L588.26 586.67 L589.34 586.97 L590.42 587.27 L591.50 587.56 L592.58 587.85 L593.67 588.14 L594.75 588.43 L595.83 588.72 L596.91 589.00 L597.99 589.28 L599.07 589.55 L600.15 589.82 L601.23 590.10 L602.31 590.36 L603.39 590.63 L604.48 590.89 L605.56 591.15 L606.64 591.41 L607.72 591.66 L608.80 591.91 L609.88 592.16 L610.96 592.41 L612.04 592.66 L613.12 592.90 L614.20 593.14 L615.29 593.38 L616.37 593.61 L617.45 593.84 L618.53 594.07 L619.61 594.30 L620.69 594.53 L621.77 594.75 L622.85 594.97 L623.93 595.19 L625.01 595.41 L626.10 595.62 L627.18 595.84 L628.26 596.05 L629.34 596.26 L630.42 596.46 L631.50 596.67 L632.58 596.87 L633.66 597.07 L634.74 597.27 L635.82 597.46 L636.90 597.66 L637.99 597.85 L639.07 598.04 L640.15 598.23 L641.23 598.42 L642.31 598.60 L643.39 598.78 L644.47 598.97 L645.55 599.14 L646.63 599.32 L647.72 599.50 L648.80 599.67 L649.88 599.84 L650.96 600.02 L652.04 600.18 L653.12 600.35 L654.20 600.52 L655.28 600.68 L656.36 600.84 L657.44 601.00 L658.53 601.16 L659.61 601.32 L660.69 601.48 L661.77 601.63 L662.85 601.78 L663.93 601.94 L665.01 602.09 L666.09 602.23 L667.17 602.38 L668.25 602.53 L669.34 602.67 L670.42 602.81 L671.50 602.95 L672.58 603.09 L673.66 603.23 L674.74 603.37 L675.82 603.51 L676.90 603.64 L677.98 603.77 L679.06 603.90 L680.14 604.03 L681.23 604.16 L682.31 604.29 L683.39 604.42 L684.47 604.54 L685.55 604.67 L686.63 604.79 L687.71 604.91 L688.79 605.03 L689.87 605.15 L690.96 605.27 L692.04 605.38 L693.12 605.50 L694.20 605.61 L695.28 605.73 L696.36 605.84 L697.44 605.95 L698.52 606.06 L699.60 606.17 L700.68 606.28 L701.77 606.38 L702.85 606.49 L703.93 606.59 L705.01 606.70 L706.09 606.80 L707.17 606.90 L708.25 607.00 L709.33 607.10 L710.41 607.20 L711.49 607.30 L712.58 607.39 L713.66 607.49 L714.74 607.59 L715.82 607.68 L716.90 607.77 L717.98 607.86 L719.06 607.95 L720.14 608.04 L721.22 608.13 L722.30 608.22 L723.38 608.31 L724.47 608.40 L725.55 608.48 L726.63 608.57 L727.71 608.65 L728.79 608.73 L729.87 608.82 L730.95 608.90 L732.03 608.98 L733.11 609.06 L734.20 609.14 L735.28 609.21 L736.36 609.29 L737.44 609.37 L738.52 609.44 L739.60 609.52" fill="none" stroke="#0433ff" stroke-width="3" stroke-dasharray="10 4.2"/>
<path d="M415.30 617.00 L416.38 614.64 L417.46 612.28 L418.54 609.92 L419.62 607.57 L420.71 605.22 L421.79 602.88 L422.87 600.54 L423.95 598.21 L425.03 595.89 L426.11 593.58 L427.19 591.28 L428.27 589.00 L429.35 586.72 L430.43 584.46 L431.51 582.22 L432.60 579.99 L433.68 577.78 L434.76 575.59 L435.84 573.41 L436.92 571.26 L438.00 569.12 L439.08 567.01 L440.16 564.93 L441.24 562.86 L442.32 560.82 L443.41 558.81 L444.49 556.82 L445.57 554.86 L446.65 552.93 L447.73 551.03 L448.81 549.16 L449.89 547.31 L450.97 545.50 L452.05 543.72 L453.13 541.97 L454.22 540.26 L455.30 538.58 L456.38 536.93 L457.46 535.32 L458.54 533.74 L459.62 532.20 L460.70 530.70 L461.78 529.23 L462.86 527.80 L463.94 526.41 L465.03 525.06 L466.11 523.74 L467.19 522.47 L468.27 521.23 L469.35 520.03 L470.43 518.87 L471.51 517.76 L472.59 516.68 L473.67 515.64 L474.75 514.64 L475.84 513.69 L476.92 512.77 L478.00 511.90 L479.08 511.06 L480.16 510.27 L481.24 509.52 L482.32 508.80 L483.40 508.13 L484.48 507.50 L485.57 506.91 L486.65 506.36 L487.73 505.85 L488.81 505.39 L489.89 504.96 L490.97 504.57 L492.05 504.22 L493.13 503.90 L494.21 503.63 L495.29 503.40 L496.38 503.20 L497.46 503.05 L498.54 502.93 L499.62 502.84 L500.70 502.80 L501.78 502.78 L502.86 502.81 L503.94 502.87 L505.02 502.97 L506.10 503.10 L507.19 503.26 L508.27 503.46 L509.35 503.69 L510.43 503.95 L511.51 504.24 L512.59 504.57 L513.67 504.92 L514.75 505.31 L515.83 505.72 L516.91 506.17 L518.00 506.64 L519.08 507.14 L520.16 507.66 L521.24 508.21 L522.32 508.79 L523.40 509.39 L524.48 510.02 L525.56 510.67 L526.64 511.34 L527.72 512.04 L528.81 512.75 L529.89 513.49 L530.97 514.25 L532.05 515.02 L533.13 515.82 L534.21 516.63 L535.29 517.46 L536.37 518.31 L537.45 519.17 L538.53 520.05 L539.62 520.94 L540.70 521.85 L541.78 522.77 L542.86 523.70 L543.94 524.65 L545.02 525.60 L546.10 526.57 L547.18 527.54 L548.26 528.53 L549.34 529.52 L550.42 530.53 L551.51 531.54 L552.59 532.55 L553.67 533.58 L554.75 534.60 L555.83 535.64 L556.91 536.67 L557.99 537.72 L559.07 538.76 L560.15 539.81 L561.24 540.86 L562.32 541.91 L563.40 542.96 L564.48 544.01 L565.56 545.07 L566.64 546.12 L567.72 547.17 L568.80 548.22 L569.88 549.27 L570.96 550.32 L572.05 551.36 L573.13 552.40 L574.21 553.44 L575.29 554.47 L576.37 555.50 L577.45 556.53 L578.53 557.55 L579.61 558.56 L580.69 559.57 L581.77 560.57 L582.86 561.56 L583.94 562.55 L585.02 563.53 L586.10 564.51 L587.18 565.48 L588.26 566.43 L589.34 567.39 L590.42 568.33 L591.50 569.26 L592.58 570.19 L593.67 571.10 L594.75 572.01 L595.83 572.91 L596.91 573.79 L597.99 574.67 L599.07 575.54 L600.15 576.40 L601.23 577.25 L602.31 578.08 L603.39 578.91 L604.48 579.73 L605.56 580.54 L606.64 581.33 L607.72 582.12 L608.80 582.89 L609.88 583.65 L610.96 584.40 L612.04 585.15 L613.12 585.88 L614.20 586.60 L615.29 587.30 L616.37 588.00 L617.45 588.69 L618.53 589.36 L619.61 590.02 L620.69 590.68 L621.77 591.32 L622.85 591.95 L623.93 592.57 L625.01 593.18 L626.10 593.77 L627.18 594.36 L628.26 594.94 L629.34 595.50 L630.42 596.06 L631.50 596.60 L632.58 597.14 L633.66 597.66 L634.74 598.17 L635.82 598.67 L636.90 599.17 L637.99 599.65 L639.07 600.12 L640.15 600.58 L641.23 601.04 L642.31 601.48 L643.39 601.91 L644.47 602.34 L645.55 602.75 L646.63 603.16 L647.72 603.55 L648.80 603.94 L649.88 604.32 L650.96 604.69 L652.04 605.05 L653.12 605.40 L654.20 605.74 L655.28 606.08 L656.36 606.41 L657.44 606.73 L658.53 607.04 L659.61 607.34 L660.69 607.64 L661.77 607.93 L662.85 608.21 L663.93 608.48 L665.01 608.75 L666.09 609.01 L667.17 609.26 L668.25 609.51 L669.34 609.75 L670.42 609.98 L671.50 610.21 L672.58 610.43 L673.66 610.65 L674.74 610.86 L675.82 611.06 L676.90 611.26 L677.98 611.45 L679.06 611.63 L680.14 611.82 L681.23 611.99 L682.31 612.16 L683.39 612.33 L684.47 612.49 L685.55 612.64 L686.63 612.80 L687.71 612.94 L688.79 613.08 L689.87 613.22 L690.96 613.36 L692.04 613.49 L693.12 613.61 L694.20 613.73 L695.28 613.85 L696.36 613.97 L697.44 614.08 L698.52 614.18 L699.60 614.29 L700.68 614.39 L701.77 614.48 L702.85 614.58 L703.93 614.67 L705.01 614.76 L706.09 614.84 L707.17 614.92 L708.25 615.00 L709.33 615.08 L710.41 615.15 L711.49 615.22 L712.58 615.29 L713.66 615.36 L714.74 615.42 L715.82 615.48 L716.90 615.54 L717.98 615.60 L719.06 615.66 L720.14 615.71 L721.22 615.76 L722.30 615.81 L723.38 615.86 L724.47 615.91 L725.55 615.95 L726.63 615.99 L727.71 616.03 L728.79 616.07 L729.87 616.11 L730.95 616.15 L732.03 616.18 L733.11 616.22 L734.20 616.25 L735.28 616.28 L736.36 616.31 L737.44 616.34 L738.52 616.37 L739.60 616.40" fill="none" stroke="#0433ff" stroke-width="4" stroke-dasharray="4 4.3"/>
<path d="M415.30 617.00 L416.38 614.39 L417.46 611.79 L418.54 609.19 L419.62 606.59 L420.71 604.00 L421.79 601.42 L422.87 598.84 L423.95 596.28 L425.03 593.73 L426.11 591.19 L427.19 588.66 L428.27 586.15 L429.35 583.66 L430.43 581.19 L431.51 578.73 L432.60 576.30 L433.68 573.89 L434.76 571.51 L435.84 569.15 L436.92 566.81 L438.00 564.51 L439.08 562.23 L440.16 559.99 L441.24 557.77 L442.32 555.59 L443.41 553.44 L444.49 551.32 L445.57 549.24 L446.65 547.20 L447.73 545.19 L448.81 543.22 L449.89 541.29 L450.97 539.40 L452.05 537.55 L453.13 535.74 L454.22 533.98 L455.30 532.25 L456.38 530.57 L457.46 528.94 L458.54 527.35 L459.62 525.80 L460.70 524.30 L461.78 522.85 L462.86 521.44 L463.94 520.08 L465.03 518.76 L466.11 517.50 L467.19 516.28 L468.27 515.11 L469.35 513.98 L470.43 512.91 L471.51 511.88 L472.59 510.91 L473.67 509.98 L474.75 509.09 L475.84 508.26 L476.92 507.48 L478.00 506.74 L479.08 506.05 L480.16 505.41 L481.24 504.81 L482.32 504.27 L483.40 503.77 L484.48 503.31 L485.57 502.91 L486.65 502.55 L487.73 502.23 L488.81 501.96 L489.89 501.73 L490.97 501.55 L492.05 501.41 L493.13 501.31 L494.21 501.26 L495.29 501.25 L496.38 501.27 L497.46 501.34 L498.54 501.45 L499.62 501.60 L500.70 501.78 L501.78 502.01 L502.86 502.27 L503.94 502.56 L505.02 502.89 L506.10 503.26 L507.19 503.66 L508.27 504.09 L509.35 504.55 L510.43 505.05 L511.51 505.58 L512.59 506.13 L513.67 506.71 L514.75 507.33 L515.83 507.97 L516.91 508.63 L518.00 509.32 L519.08 510.04 L520.16 510.77 L521.24 511.54 L522.32 512.32 L523.40 513.12 L524.48 513.95 L525.56 514.79 L526.64 515.65 L527.72 516.53 L528.81 517.42 L529.89 518.34 L530.97 519.26 L532.05 520.20 L533.13 521.16 L534.21 522.12 L535.29 523.10 L536.37 524.09 L537.45 525.09 L538.53 526.10 L539.62 527.11 L540.70 528.14 L541.78 529.17 L542.86 530.21 L543.94 531.25 L545.02 532.30 L546.10 533.35 L547.18 534.41 L548.26 535.47 L549.34 536.53 L550.42 537.60 L551.51 538.66 L552.59 539.73 L553.67 540.80 L554.75 541.86 L555.83 542.93 L556.91 543.99 L557.99 545.05 L559.07 546.11 L560.15 547.16 L561.24 548.21 L562.32 549.26 L563.40 550.30 L564.48 551.34 L565.56 552.37 L566.64 553.40 L567.72 554.42 L568.80 555.43 L569.88 556.44 L570.96 557.44 L572.05 558.43 L573.13 559.42 L574.21 560.39 L575.29 561.36 L576.37 562.32 L577.45 563.27 L578.53 564.22 L579.61 565.15 L580.69 566.07 L581.77 566.99 L582.86 567.89 L583.94 568.78 L585.02 569.67 L586.10 570.54 L587.18 571.41 L588.26 572.26 L589.34 573.10 L590.42 573.93 L591.50 574.75 L592.58 575.56 L593.67 576.36 L594.75 577.15 L595.83 577.93 L596.91 578.70 L597.99 579.45 L599.07 580.19 L600.15 580.93 L601.23 581.65 L602.31 582.36 L603.39 583.06 L604.48 583.75 L605.56 584.43 L606.64 585.09 L607.72 585.75 L608.80 586.40 L609.88 587.03 L610.96 587.65 L612.04 588.27 L613.12 588.87 L614.20 589.46 L615.29 590.04 L616.37 590.61 L617.45 591.17 L618.53 591.72 L619.61 592.27 L620.69 592.80 L621.77 593.32 L622.85 593.83 L623.93 594.33 L625.01 594.82 L626.10 595.30 L627.18 595.77 L628.26 596.24 L629.34 596.69 L630.42 597.14 L631.50 597.57 L632.58 598.00 L633.66 598.42 L634.74 598.83 L635.82 599.24 L636.90 599.63 L637.99 600.02 L639.07 600.39 L640.15 600.76 L641.23 601.13 L642.31 601.48 L643.39 601.83 L644.47 602.17 L645.55 602.50 L646.63 602.83 L647.72 603.14 L648.80 603.46 L649.88 603.76 L650.96 604.06 L652.04 604.35 L653.12 604.64 L654.20 604.91 L655.28 605.19 L656.36 605.45 L657.44 605.72 L658.53 605.97 L659.61 606.22 L660.69 606.46 L661.77 606.70 L662.85 606.94 L663.93 607.16 L665.01 607.39 L666.09 607.60 L667.17 607.82 L668.25 608.03 L669.34 608.23 L670.42 608.43 L671.50 608.62 L672.58 608.81 L673.66 609.00 L674.74 609.18 L675.82 609.35 L676.90 609.53 L677.98 609.70 L679.06 609.86 L680.14 610.02 L681.23 610.18 L682.31 610.33 L683.39 610.48 L684.47 610.63 L685.55 610.77 L686.63 610.91 L687.71 611.05 L688.79 611.19 L689.87 611.32 L690.96 611.44 L692.04 611.57 L693.12 611.69 L694.20 611.81 L695.28 611.93 L696.36 612.04 L697.44 612.15 L698.52 612.26 L699.60 612.36 L700.68 612.47 L701.77 612.57 L702.85 612.67 L703.93 612.76 L705.01 612.86 L706.09 612.95 L707.17 613.04 L708.25 613.13 L709.33 613.21 L710.41 613.30 L711.49 613.38 L712.58 613.46 L713.66 613.54 L714.74 613.62 L715.82 613.69 L716.90 613.76 L717.98 613.83 L719.06 613.90 L720.14 613.97 L721.22 614.04 L722.30 614.10 L723.38 614.17 L724.47 614.23 L725.55 614.29 L726.63 614.35 L727.71 614.41 L728.79 614.46 L729.87 614.52 L730.95 614.57 L732.03 614.63 L733.11 614.68 L734.20 614.73 L735.28 614.78 L736.36 614.83 L737.44 614.87 L738.52 614.92 L739.60 614.96" fill="none" stroke="#ff2600" stroke-width="2"/>
<g font-family="Liberation Sans, sans-serif" font-size="28.6" fill="#000">
<text x="77" y="63.7" text-anchor="end">0.5</text>
<text x="77" y="220.2" text-anchor="end">0</text>
<text x="749" y="63.7">1.0</text>
<text x="749" y="141.8">0.5</text>
<text x="749" y="220.2">0</text>
<text x="77" y="271.0" text-anchor="end">0.5</text>
<text x="77" y="427.8" text-anchor="end">0</text>
<text x="749" y="271.0">1.0</text>
<text x="749" y="349.2">0.5</text>
<text x="749" y="427.8">0</text>
<text x="77" y="476.9" text-anchor="end">0.5</text>
<text x="77" y="627.6" text-anchor="end">0</text>
<text x="749" y="476.9">1.0</text>
<text x="749" y="552.1">0.5</text>
<text x="749" y="627.6">0</text>
<text x="90.9" y="659.8" text-anchor="middle">0</text>
<text x="199.0" y="659.8" text-anchor="middle">1</text>
<text x="307.2" y="659.8" text-anchor="middle">2</text>
<text x="415.3" y="659.8" text-anchor="middle">0</text>
<text x="523.4" y="659.8" text-anchor="middle">1</text>
<text x="631.5" y="659.8" text-anchor="middle">2</text>
<text x="739.6" y="659.8" text-anchor="middle">3</text>
<text x="253.1" y="695.6" text-anchor="middle">S</text>
<text x="577.5" y="695.6" text-anchor="middle">S</text>
<text x="399" y="44.0" text-anchor="end" xml:space="preserve">(a)  H/R = 0.0</text>
<text x="723.4" y="44.0" text-anchor="end" xml:space="preserve">(d)  H/R = 0.0</text>
<text x="399" y="251.6" text-anchor="end" xml:space="preserve">(b)  H/R = 0.1</text>
<text x="723.4" y="251.6" text-anchor="end" xml:space="preserve">(e)  H/R = 0.1</text>
<text x="399" y="457.7" text-anchor="end" xml:space="preserve">(c)  H/R = 0.5</text>
<text x="723.4" y="457.7" text-anchor="end" xml:space="preserve">(f)  H/R = 0.5</text>
<text transform="translate(32.1 356) rotate(-90)">P<tspan font-size="22.9" dy="-14">(1)</tspan><tspan dy="14">(S)</tspan></text>
<text transform="translate(822.1 356) rotate(-90)">P<tspan font-size="22.9" dy="-14">(2)</tspan><tspan dy="14">(S)</tspan></text>
</g>
<g font-family="Liberation Mono, monospace" font-size="21.6" fill="#000">
<text x="347.0" y="75.4" text-anchor="end">Poisson (g=2)</text>
<text x="347.0" y="97.3" text-anchor="end">GOE (g=2)</text>
<path d="M362.9 68.3 h35.2" stroke="#0433ff" stroke-width="3" stroke-dasharray="10 4.2" fill="none"/>
<path d="M362.9 90.7 h35.2" stroke="#0433ff" stroke-width="4" stroke-dasharray="4 4.3" fill="none"/>
<text x="671.4" y="75.4" text-anchor="end">Poisson (g=2)</text>
<text x="671.4" y="97.3" text-anchor="end">GOE (g=2)</text>
<path d="M687.6 68.3 h35.2" stroke="#0433ff" stroke-width="3" stroke-dasharray="10 4.2" fill="none"/>
<path d="M687.6 90.7 h35.2" stroke="#0433ff" stroke-width="4" stroke-dasharray="4 4.3" fill="none"/>
<text x="670.5" y="280.0" text-anchor="end" xml:space="preserve">= 0.32</text>
<path d="M687.6 275.2 h34.8" stroke="#ff2600" stroke-width="2" fill="none"/>
<text x="553.0" y="283.4" font-family="Liberation Serif, serif" font-style="italic" font-size="27">λ<tspan font-style="normal" font-size="21" dy="4.4" dx="1.2">fit</tspan></text>
<text x="670.5" y="485.9" text-anchor="end" xml:space="preserve">= 0.95</text>
<path d="M687.6 481.1 h34.8" stroke="#ff2600" stroke-width="2" fill="none"/>
<text x="556.2" y="489.3" font-family="Liberation Serif, serif" font-style="italic" font-size="27">λ<tspan font-style="normal" font-size="21" dy="4.4" dx="1.2">fit</tspan></text>
</g>
</svg>
</body></html>
